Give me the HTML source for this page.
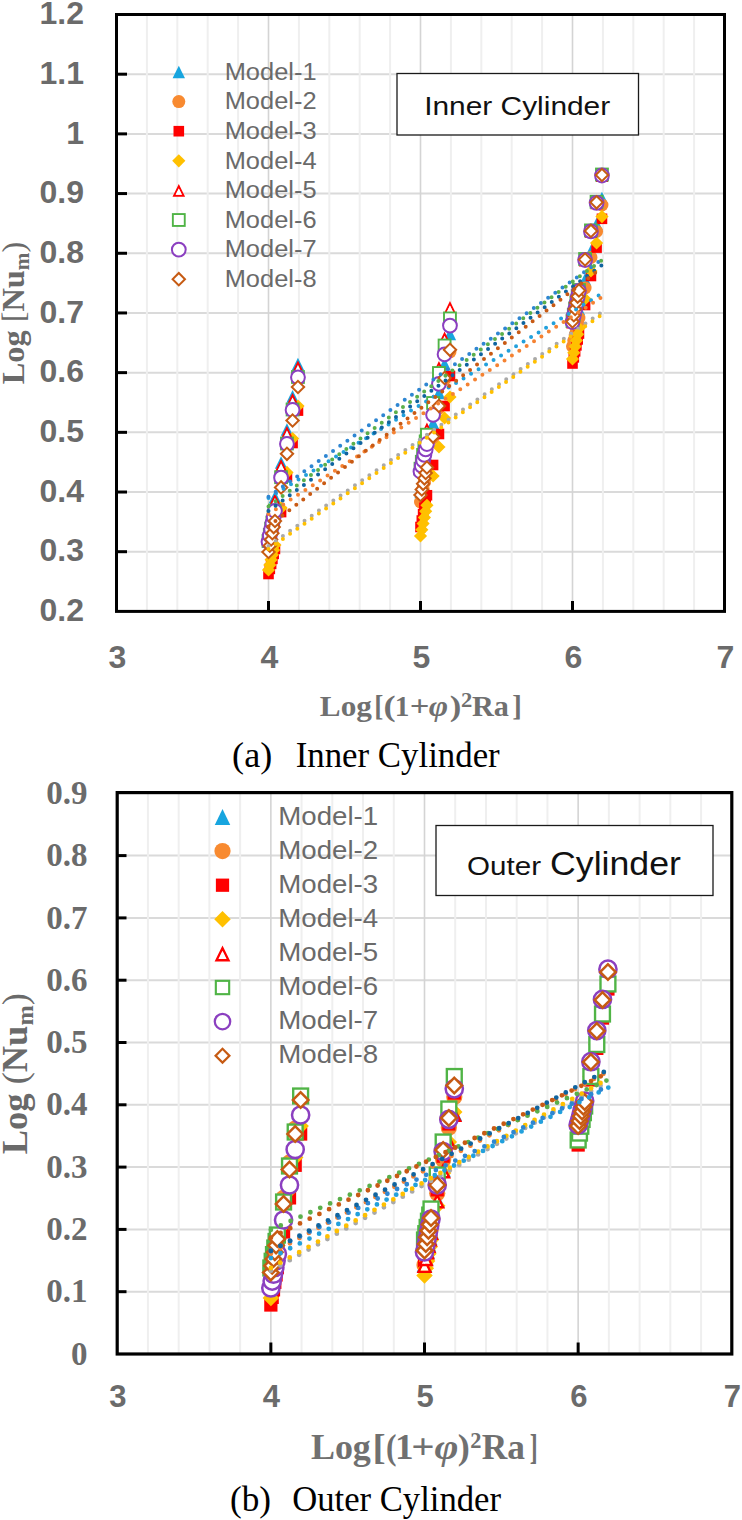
<!DOCTYPE html>
<html><head><meta charset="utf-8"><style>
html,body{margin:0;padding:0;background:#fff;}
svg{display:block;}
</style></head><body>
<svg width="742" height="1520" viewBox="0 0 742 1520">
<rect width="742" height="1520" fill="#fff"/>
<line x1="116.5" y1="551.71" x2="724.5" y2="551.71" stroke="#dadada" stroke-width="2"/>
<line x1="116.5" y1="492.02" x2="724.5" y2="492.02" stroke="#dadada" stroke-width="2"/>
<line x1="116.5" y1="432.33" x2="724.5" y2="432.33" stroke="#dadada" stroke-width="2"/>
<line x1="116.5" y1="372.64" x2="724.5" y2="372.64" stroke="#dadada" stroke-width="2"/>
<line x1="116.5" y1="312.95" x2="724.5" y2="312.95" stroke="#dadada" stroke-width="2"/>
<line x1="116.5" y1="253.26" x2="724.5" y2="253.26" stroke="#dadada" stroke-width="2"/>
<line x1="116.5" y1="193.57" x2="724.5" y2="193.57" stroke="#dadada" stroke-width="2"/>
<line x1="116.5" y1="133.88" x2="724.5" y2="133.88" stroke="#dadada" stroke-width="2"/>
<line x1="116.5" y1="74.19" x2="724.5" y2="74.19" stroke="#dadada" stroke-width="2"/>
<line x1="146.9" y1="14.5" x2="146.9" y2="611.4" stroke="#efefef" stroke-width="2"/>
<line x1="177.3" y1="14.5" x2="177.3" y2="611.4" stroke="#efefef" stroke-width="2"/>
<line x1="207.7" y1="14.5" x2="207.7" y2="611.4" stroke="#efefef" stroke-width="2"/>
<line x1="238.1" y1="14.5" x2="238.1" y2="611.4" stroke="#efefef" stroke-width="2"/>
<line x1="268.5" y1="14.5" x2="268.5" y2="611.4" stroke="#d4d4d4" stroke-width="1.6"/>
<line x1="298.9" y1="14.5" x2="298.9" y2="611.4" stroke="#efefef" stroke-width="2"/>
<line x1="329.3" y1="14.5" x2="329.3" y2="611.4" stroke="#efefef" stroke-width="2"/>
<line x1="359.7" y1="14.5" x2="359.7" y2="611.4" stroke="#efefef" stroke-width="2"/>
<line x1="390.1" y1="14.5" x2="390.1" y2="611.4" stroke="#efefef" stroke-width="2"/>
<line x1="420.5" y1="14.5" x2="420.5" y2="611.4" stroke="#d4d4d4" stroke-width="1.6"/>
<line x1="450.9" y1="14.5" x2="450.9" y2="611.4" stroke="#efefef" stroke-width="2"/>
<line x1="481.3" y1="14.5" x2="481.3" y2="611.4" stroke="#efefef" stroke-width="2"/>
<line x1="511.7" y1="14.5" x2="511.7" y2="611.4" stroke="#efefef" stroke-width="2"/>
<line x1="542.1" y1="14.5" x2="542.1" y2="611.4" stroke="#efefef" stroke-width="2"/>
<line x1="572.5" y1="14.5" x2="572.5" y2="611.4" stroke="#d4d4d4" stroke-width="1.6"/>
<line x1="602.9" y1="14.5" x2="602.9" y2="611.4" stroke="#efefef" stroke-width="2"/>
<line x1="633.3" y1="14.5" x2="633.3" y2="611.4" stroke="#efefef" stroke-width="2"/>
<line x1="663.7" y1="14.5" x2="663.7" y2="611.4" stroke="#efefef" stroke-width="2"/>
<line x1="694.1" y1="14.5" x2="694.1" y2="611.4" stroke="#efefef" stroke-width="2"/>
<path d="M178.8 65.7L185 78.3L172.6 78.3Z" fill="#17a5df"/>
<text x="224.7" y="79.7" font-family="Liberation Sans" font-size="23.5" fill="#6a6a6a" textLength="91.9" lengthAdjust="spacingAndGlyphs">Model-1</text>
<circle cx="178.8" cy="101.6" r="6.5" fill="#f88a30"/>
<text x="224.7" y="109.3" font-family="Liberation Sans" font-size="23.5" fill="#6a6a6a" textLength="91.9" lengthAdjust="spacingAndGlyphs">Model-2</text>
<rect x="173.5" y="125.9" width="10.6" height="10.6" fill="#ff0000"/>
<text x="224.7" y="138.9" font-family="Liberation Sans" font-size="23.5" fill="#6a6a6a" textLength="91.9" lengthAdjust="spacingAndGlyphs">Model-3</text>
<path d="M178.8 154.2L185.4 160.8L178.8 167.4L172.2 160.8Z" fill="#ffc000"/>
<text x="224.7" y="168.5" font-family="Liberation Sans" font-size="23.5" fill="#6a6a6a" textLength="91.9" lengthAdjust="spacingAndGlyphs">Model-4</text>
<path d="M178.8 184L185.1 196.8L172.5 196.8ZM178.8 188.44L181.95 194.84L175.65 194.84Z" fill="#ff0000" fill-rule="evenodd"/><path d="M178.8 188.44L181.95 194.84L175.65 194.84Z" fill="#fff"/>
<text x="224.7" y="198.1" font-family="Liberation Sans" font-size="23.5" fill="#6a6a6a" textLength="91.9" lengthAdjust="spacingAndGlyphs">Model-5</text>
<rect x="171.9" y="213.1" width="13.8" height="13.8" fill="#50b446"/><rect x="173.8" y="215" width="10" height="10" fill="#fff"/>
<text x="224.7" y="227.7" font-family="Liberation Sans" font-size="23.5" fill="#6a6a6a" textLength="91.9" lengthAdjust="spacingAndGlyphs">Model-6</text>
<circle cx="178.8" cy="249.6" r="6.9" fill="#fff" stroke="#8b3fc0" stroke-width="2"/>
<text x="224.7" y="257.3" font-family="Liberation Sans" font-size="23.5" fill="#6a6a6a" textLength="91.9" lengthAdjust="spacingAndGlyphs">Model-7</text>
<path d="M178.8 271.6L186.4 279.2L178.8 286.8L171.2 279.2Z" fill="#c65a12"/><path d="M178.8 274.43L183.57 279.2L178.8 283.97L174.03 279.2Z" fill="#fff"/>
<text x="224.7" y="286.9" font-family="Liberation Sans" font-size="23.5" fill="#6a6a6a" textLength="91.9" lengthAdjust="spacingAndGlyphs">Model-8</text>
<rect x="397" y="73.5" width="241.5" height="61.5" fill="#fff" stroke="#1a1a1a" stroke-width="1.3"/>
<text x="424.2" y="114.8" font-family="Liberation Sans" font-size="26.5" fill="#111" textLength="186" lengthAdjust="spacingAndGlyphs">Inner Cylinder</text>
<path d="M268.5 530.7L274.7 543.3L262.3 543.3Z" fill="#17a5df"/>
<path d="M269.81 522.54L276.01 535.14L263.61 535.14Z" fill="#17a5df"/>
<path d="M271.11 514.47L277.31 527.07L264.91 527.07Z" fill="#17a5df"/>
<path d="M272.4 506.47L278.6 519.07L266.2 519.07Z" fill="#17a5df"/>
<path d="M273.68 498.55L279.88 511.15L267.48 511.15Z" fill="#17a5df"/>
<path d="M274.94 490.7L281.14 503.3L268.74 503.3Z" fill="#17a5df"/>
<path d="M281.08 456.18L287.28 468.78L274.88 468.78Z" fill="#17a5df"/>
<path d="M286.95 423.2L293.15 435.8L280.75 435.8Z" fill="#17a5df"/>
<path d="M292.57 390.1L298.77 402.7L286.37 402.7Z" fill="#17a5df"/>
<path d="M297.96 357.7L304.16 370.3L291.76 370.3Z" fill="#17a5df"/>
<path d="M420.5 485.7L426.7 498.3L414.3 498.3Z" fill="#17a5df"/>
<path d="M421.81 478.5L428.01 491.1L415.61 491.1Z" fill="#17a5df"/>
<path d="M423.11 471.36L429.31 483.96L416.91 483.96Z" fill="#17a5df"/>
<path d="M424.4 464.3L430.6 476.9L418.2 476.9Z" fill="#17a5df"/>
<path d="M425.68 457.31L431.88 469.91L419.48 469.91Z" fill="#17a5df"/>
<path d="M426.94 450.38L433.14 462.98L420.74 462.98Z" fill="#17a5df"/>
<path d="M433.08 416.7L439.28 429.3L426.88 429.3Z" fill="#17a5df"/>
<path d="M438.95 386.56L445.15 399.16L432.75 399.16Z" fill="#17a5df"/>
<path d="M444.57 357.7L450.77 370.3L438.37 370.3Z" fill="#17a5df"/>
<path d="M449.96 327.7L456.16 340.3L443.76 340.3Z" fill="#17a5df"/>
<path d="M572.5 333.7L578.7 346.3L566.3 346.3Z" fill="#17a5df"/>
<path d="M573.81 327.37L580.01 339.97L567.61 339.97Z" fill="#17a5df"/>
<path d="M575.11 321.1L581.31 333.7L568.91 333.7Z" fill="#17a5df"/>
<path d="M576.4 314.89L582.6 327.49L570.2 327.49Z" fill="#17a5df"/>
<path d="M577.68 308.74L583.88 321.34L571.48 321.34Z" fill="#17a5df"/>
<path d="M578.94 302.65L585.14 315.25L572.74 315.25Z" fill="#17a5df"/>
<path d="M585.08 273.05L591.28 285.65L578.88 285.65Z" fill="#17a5df"/>
<path d="M590.95 244.76L597.15 257.36L584.75 257.36Z" fill="#17a5df"/>
<path d="M596.57 217.68L602.77 230.28L590.37 230.28Z" fill="#17a5df"/>
<path d="M601.96 191.7L608.16 204.3L595.76 204.3Z" fill="#17a5df"/>
<circle cx="268.5" cy="541.8" r="6.5" fill="#f88a30"/>
<circle cx="269.81" cy="535.52" r="6.5" fill="#f88a30"/>
<circle cx="271.11" cy="529.3" r="6.5" fill="#f88a30"/>
<circle cx="272.4" cy="523.14" r="6.5" fill="#f88a30"/>
<circle cx="273.68" cy="517.04" r="6.5" fill="#f88a30"/>
<circle cx="274.94" cy="511" r="6.5" fill="#f88a30"/>
<circle cx="281.08" cy="477.7" r="6.5" fill="#f88a30"/>
<circle cx="286.95" cy="444" r="6.5" fill="#f88a30"/>
<circle cx="292.57" cy="410" r="6.5" fill="#f88a30"/>
<circle cx="297.96" cy="377.3" r="6.5" fill="#f88a30"/>
<circle cx="420.5" cy="502" r="6.5" fill="#f88a30"/>
<circle cx="421.81" cy="495.31" r="6.5" fill="#f88a30"/>
<circle cx="423.11" cy="488.69" r="6.5" fill="#f88a30"/>
<circle cx="424.4" cy="482.13" r="6.5" fill="#f88a30"/>
<circle cx="425.68" cy="475.64" r="6.5" fill="#f88a30"/>
<circle cx="426.94" cy="469.2" r="6.5" fill="#f88a30"/>
<circle cx="433.08" cy="437.93" r="6.5" fill="#f88a30"/>
<circle cx="438.95" cy="408.05" r="6.5" fill="#f88a30"/>
<circle cx="444.57" cy="379.44" r="6.5" fill="#f88a30"/>
<circle cx="449.96" cy="352" r="6.5" fill="#f88a30"/>
<circle cx="572.5" cy="346.5" r="6.5" fill="#f88a30"/>
<circle cx="573.81" cy="340.69" r="6.5" fill="#f88a30"/>
<circle cx="575.11" cy="334.93" r="6.5" fill="#f88a30"/>
<circle cx="576.4" cy="329.23" r="6.5" fill="#f88a30"/>
<circle cx="577.68" cy="323.59" r="6.5" fill="#f88a30"/>
<circle cx="578.94" cy="318" r="6.5" fill="#f88a30"/>
<circle cx="585.08" cy="288" r="6.5" fill="#f88a30"/>
<circle cx="590.95" cy="257.4" r="6.5" fill="#f88a30"/>
<circle cx="596.57" cy="231.4" r="6.5" fill="#f88a30"/>
<circle cx="601.96" cy="205" r="6.5" fill="#f88a30"/>
<rect x="263.2" y="568.7" width="10.6" height="10.6" fill="#ff0000"/>
<rect x="264.51" y="563.6" width="10.6" height="10.6" fill="#ff0000"/>
<rect x="265.81" y="558.55" width="10.6" height="10.6" fill="#ff0000"/>
<rect x="267.1" y="553.55" width="10.6" height="10.6" fill="#ff0000"/>
<rect x="268.38" y="548.6" width="10.6" height="10.6" fill="#ff0000"/>
<rect x="269.64" y="543.7" width="10.6" height="10.6" fill="#ff0000"/>
<rect x="275.78" y="506.77" width="10.6" height="10.6" fill="#ff0000"/>
<rect x="281.65" y="471.49" width="10.6" height="10.6" fill="#ff0000"/>
<rect x="287.27" y="437.7" width="10.6" height="10.6" fill="#ff0000"/>
<rect x="292.66" y="405.3" width="10.6" height="10.6" fill="#ff0000"/>
<rect x="415.2" y="521.7" width="10.6" height="10.6" fill="#ff0000"/>
<rect x="416.51" y="515.23" width="10.6" height="10.6" fill="#ff0000"/>
<rect x="417.81" y="508.82" width="10.6" height="10.6" fill="#ff0000"/>
<rect x="419.1" y="502.47" width="10.6" height="10.6" fill="#ff0000"/>
<rect x="420.38" y="496.19" width="10.6" height="10.6" fill="#ff0000"/>
<rect x="421.64" y="489.96" width="10.6" height="10.6" fill="#ff0000"/>
<rect x="427.78" y="459.7" width="10.6" height="10.6" fill="#ff0000"/>
<rect x="433.65" y="428.7" width="10.6" height="10.6" fill="#ff0000"/>
<rect x="439.27" y="400.7" width="10.6" height="10.6" fill="#ff0000"/>
<rect x="444.66" y="370.7" width="10.6" height="10.6" fill="#ff0000"/>
<rect x="567.2" y="358.2" width="10.6" height="10.6" fill="#ff0000"/>
<rect x="568.51" y="352.09" width="10.6" height="10.6" fill="#ff0000"/>
<rect x="569.81" y="346.05" width="10.6" height="10.6" fill="#ff0000"/>
<rect x="571.1" y="340.06" width="10.6" height="10.6" fill="#ff0000"/>
<rect x="572.38" y="334.13" width="10.6" height="10.6" fill="#ff0000"/>
<rect x="573.64" y="328.25" width="10.6" height="10.6" fill="#ff0000"/>
<rect x="579.78" y="299.7" width="10.6" height="10.6" fill="#ff0000"/>
<rect x="585.65" y="270.7" width="10.6" height="10.6" fill="#ff0000"/>
<rect x="591.27" y="242.3" width="10.6" height="10.6" fill="#ff0000"/>
<rect x="596.66" y="213.5" width="10.6" height="10.6" fill="#ff0000"/>
<path d="M268.5 563.4L275.1 570L268.5 576.6L261.9 570Z" fill="#ffc000"/>
<path d="M269.81 558.3L276.41 564.9L269.81 571.5L263.21 564.9Z" fill="#ffc000"/>
<path d="M271.11 553.25L277.71 559.85L271.11 566.45L264.51 559.85Z" fill="#ffc000"/>
<path d="M272.4 548.25L279 554.85L272.4 561.45L265.8 554.85Z" fill="#ffc000"/>
<path d="M273.68 543.3L280.28 549.9L273.68 556.5L267.08 549.9Z" fill="#ffc000"/>
<path d="M274.94 538.4L281.54 545L274.94 551.6L268.34 545Z" fill="#ffc000"/>
<path d="M281.08 501.31L287.68 507.91L281.08 514.51L274.48 507.91Z" fill="#ffc000"/>
<path d="M286.95 465.87L293.55 472.47L286.95 479.07L280.35 472.47Z" fill="#ffc000"/>
<path d="M292.57 431.94L299.17 438.54L292.57 445.14L285.97 438.54Z" fill="#ffc000"/>
<path d="M297.96 399.4L304.56 406L297.96 412.6L291.36 406Z" fill="#ffc000"/>
<path d="M420.5 529.4L427.1 536L420.5 542.6L413.9 536Z" fill="#ffc000"/>
<path d="M421.81 523.14L428.41 529.74L421.81 536.34L415.21 529.74Z" fill="#ffc000"/>
<path d="M423.11 516.93L429.71 523.53L423.11 530.13L416.51 523.53Z" fill="#ffc000"/>
<path d="M424.4 510.79L431 517.39L424.4 523.99L417.8 517.39Z" fill="#ffc000"/>
<path d="M425.68 504.71L432.28 511.31L425.68 517.91L419.08 511.31Z" fill="#ffc000"/>
<path d="M426.94 498.69L433.54 505.29L426.94 511.89L420.34 505.29Z" fill="#ffc000"/>
<path d="M433.08 469.4L439.68 476L433.08 482.6L426.48 476Z" fill="#ffc000"/>
<path d="M438.95 440.4L445.55 447L438.95 453.6L432.35 447Z" fill="#ffc000"/>
<path d="M444.57 411.4L451.17 418L444.57 424.6L437.97 418Z" fill="#ffc000"/>
<path d="M449.96 390.4L456.56 397L449.96 403.6L443.36 397Z" fill="#ffc000"/>
<path d="M572.5 352.4L579.1 359L572.5 365.6L565.9 359Z" fill="#ffc000"/>
<path d="M573.81 346.13L580.41 352.73L573.81 359.33L567.21 352.73Z" fill="#ffc000"/>
<path d="M575.11 339.93L581.71 346.53L575.11 353.13L568.51 346.53Z" fill="#ffc000"/>
<path d="M576.4 333.79L583 340.39L576.4 346.99L569.8 340.39Z" fill="#ffc000"/>
<path d="M577.68 327.7L584.28 334.3L577.68 340.9L571.08 334.3Z" fill="#ffc000"/>
<path d="M578.94 321.68L585.54 328.28L578.94 334.88L572.34 328.28Z" fill="#ffc000"/>
<path d="M585.08 292.39L591.68 298.99L585.08 305.59L578.48 298.99Z" fill="#ffc000"/>
<path d="M590.95 264.4L597.55 271L590.95 277.6L584.35 271Z" fill="#ffc000"/>
<path d="M596.57 236.4L603.17 243L596.57 249.6L589.97 243Z" fill="#ffc000"/>
<path d="M601.96 210L608.56 216.6L601.96 223.2L595.36 216.6Z" fill="#ffc000"/>
<path d="M268.5 533.6L274.8 546.4L262.2 546.4ZM268.5 538.04L271.65 544.44L265.35 544.44Z" fill="#ff0000" fill-rule="evenodd"/><path d="M268.5 538.04L271.65 544.44L265.35 544.44Z" fill="#fff"/>
<path d="M269.81 525.44L276.11 538.24L263.51 538.24ZM269.81 529.88L272.96 536.28L266.66 536.28Z" fill="#ff0000" fill-rule="evenodd"/><path d="M269.81 529.88L272.96 536.28L266.66 536.28Z" fill="#fff"/>
<path d="M271.11 517.37L277.41 530.17L264.81 530.17ZM271.11 521.8L274.26 528.2L267.96 528.2Z" fill="#ff0000" fill-rule="evenodd"/><path d="M271.11 521.8L274.26 528.2L267.96 528.2Z" fill="#fff"/>
<path d="M272.4 509.37L278.7 522.17L266.1 522.17ZM272.4 513.81L275.55 520.21L269.25 520.21Z" fill="#ff0000" fill-rule="evenodd"/><path d="M272.4 513.81L275.55 520.21L269.25 520.21Z" fill="#fff"/>
<path d="M273.68 501.45L279.98 514.25L267.38 514.25ZM273.68 505.88L276.83 512.28L270.53 512.28Z" fill="#ff0000" fill-rule="evenodd"/><path d="M273.68 505.88L276.83 512.28L270.53 512.28Z" fill="#fff"/>
<path d="M274.94 493.6L281.24 506.4L268.64 506.4ZM274.94 498.04L278.09 504.44L271.79 504.44Z" fill="#ff0000" fill-rule="evenodd"/><path d="M274.94 498.04L278.09 504.44L271.79 504.44Z" fill="#fff"/>
<path d="M281.08 459.08L287.38 471.88L274.78 471.88ZM281.08 463.52L284.23 469.92L277.93 469.92Z" fill="#ff0000" fill-rule="evenodd"/><path d="M281.08 463.52L284.23 469.92L277.93 469.92Z" fill="#fff"/>
<path d="M286.95 426.1L293.25 438.9L280.65 438.9ZM286.95 430.54L290.1 436.94L283.8 436.94Z" fill="#ff0000" fill-rule="evenodd"/><path d="M286.95 430.54L290.1 436.94L283.8 436.94Z" fill="#fff"/>
<path d="M292.57 393L298.87 405.8L286.27 405.8ZM292.57 397.44L295.72 403.84L289.42 403.84Z" fill="#ff0000" fill-rule="evenodd"/><path d="M292.57 397.44L295.72 403.84L289.42 403.84Z" fill="#fff"/>
<path d="M297.96 360.6L304.26 373.4L291.66 373.4ZM297.96 365.04L301.11 371.44L294.81 371.44Z" fill="#ff0000" fill-rule="evenodd"/><path d="M297.96 365.04L301.11 371.44L294.81 371.44Z" fill="#fff"/>
<path d="M420.5 456.6L426.8 469.4L414.2 469.4ZM420.5 461.04L423.65 467.44L417.35 467.44Z" fill="#ff0000" fill-rule="evenodd"/><path d="M420.5 461.04L423.65 467.44L417.35 467.44Z" fill="#fff"/>
<path d="M421.81 449.67L428.11 462.47L415.51 462.47ZM421.81 454.11L424.96 460.51L418.66 460.51Z" fill="#ff0000" fill-rule="evenodd"/><path d="M421.81 454.11L424.96 460.51L418.66 460.51Z" fill="#fff"/>
<path d="M423.11 442.8L429.41 455.6L416.81 455.6ZM423.11 447.24L426.26 453.64L419.96 453.64Z" fill="#ff0000" fill-rule="evenodd"/><path d="M423.11 447.24L426.26 453.64L419.96 453.64Z" fill="#fff"/>
<path d="M424.4 436L430.7 448.8L418.1 448.8ZM424.4 440.44L427.55 446.84L421.25 446.84Z" fill="#ff0000" fill-rule="evenodd"/><path d="M424.4 440.44L427.55 446.84L421.25 446.84Z" fill="#fff"/>
<path d="M425.68 429.27L431.98 442.07L419.38 442.07ZM425.68 433.71L428.83 440.11L422.53 440.11Z" fill="#ff0000" fill-rule="evenodd"/><path d="M425.68 433.71L428.83 440.11L422.53 440.11Z" fill="#fff"/>
<path d="M426.94 422.6L433.24 435.4L420.64 435.4ZM426.94 427.04L430.09 433.44L423.79 433.44Z" fill="#ff0000" fill-rule="evenodd"/><path d="M426.94 427.04L430.09 433.44L423.79 433.44Z" fill="#fff"/>
<path d="M433.08 394.6L439.38 407.4L426.78 407.4ZM433.08 399.04L436.23 405.44L429.93 405.44Z" fill="#ff0000" fill-rule="evenodd"/><path d="M433.08 399.04L436.23 405.44L429.93 405.44Z" fill="#fff"/>
<path d="M438.95 361.1L445.25 373.9L432.65 373.9ZM438.95 365.54L442.1 371.94L435.8 371.94Z" fill="#ff0000" fill-rule="evenodd"/><path d="M438.95 365.54L442.1 371.94L435.8 371.94Z" fill="#fff"/>
<path d="M444.57 331.6L450.87 344.4L438.27 344.4ZM444.57 336.04L447.72 342.44L441.42 342.44Z" fill="#ff0000" fill-rule="evenodd"/><path d="M444.57 336.04L447.72 342.44L441.42 342.44Z" fill="#fff"/>
<path d="M449.96 301.1L456.26 313.9L443.66 313.9ZM449.96 305.54L453.11 311.94L446.81 311.94Z" fill="#ff0000" fill-rule="evenodd"/><path d="M449.96 305.54L453.11 311.94L446.81 311.94Z" fill="#fff"/>
<path d="M572.5 315.6L578.8 328.4L566.2 328.4ZM572.5 320.04L575.65 326.44L569.35 326.44Z" fill="#ff0000" fill-rule="evenodd"/><path d="M572.5 320.04L575.65 326.44L569.35 326.44Z" fill="#fff"/>
<path d="M573.81 309.28L580.11 322.08L567.51 322.08ZM573.81 313.72L576.96 320.12L570.66 320.12Z" fill="#ff0000" fill-rule="evenodd"/><path d="M573.81 313.72L576.96 320.12L570.66 320.12Z" fill="#fff"/>
<path d="M575.11 303.02L581.41 315.82L568.81 315.82ZM575.11 307.46L578.26 313.86L571.96 313.86Z" fill="#ff0000" fill-rule="evenodd"/><path d="M575.11 307.46L578.26 313.86L571.96 313.86Z" fill="#fff"/>
<path d="M576.4 296.82L582.7 309.62L570.1 309.62ZM576.4 301.26L579.55 307.66L573.25 307.66Z" fill="#ff0000" fill-rule="evenodd"/><path d="M576.4 301.26L579.55 307.66L573.25 307.66Z" fill="#fff"/>
<path d="M577.68 290.68L583.98 303.48L571.38 303.48ZM577.68 295.12L580.83 301.52L574.53 301.52Z" fill="#ff0000" fill-rule="evenodd"/><path d="M577.68 295.12L580.83 301.52L574.53 301.52Z" fill="#fff"/>
<path d="M578.94 284.6L585.24 297.4L572.64 297.4ZM578.94 289.04L582.09 295.44L575.79 295.44Z" fill="#ff0000" fill-rule="evenodd"/><path d="M578.94 289.04L582.09 295.44L575.79 295.44Z" fill="#fff"/>
<path d="M585.08 253.6L591.38 266.4L578.78 266.4ZM585.08 258.04L588.23 264.44L581.93 264.44Z" fill="#ff0000" fill-rule="evenodd"/><path d="M585.08 258.04L588.23 264.44L581.93 264.44Z" fill="#fff"/>
<path d="M590.95 225L597.25 237.8L584.65 237.8ZM590.95 229.44L594.1 235.84L587.8 235.84Z" fill="#ff0000" fill-rule="evenodd"/><path d="M590.95 229.44L594.1 235.84L587.8 235.84Z" fill="#fff"/>
<path d="M596.57 196.4L602.87 209.2L590.27 209.2ZM596.57 200.84L599.72 207.24L593.42 207.24Z" fill="#ff0000" fill-rule="evenodd"/><path d="M596.57 200.84L599.72 207.24L593.42 207.24Z" fill="#fff"/>
<path d="M601.96 169.1L608.26 181.9L595.66 181.9ZM601.96 173.54L605.11 179.94L598.81 179.94Z" fill="#ff0000" fill-rule="evenodd"/><path d="M601.96 173.54L605.11 179.94L598.81 179.94Z" fill="#fff"/>
<rect x="261.6" y="534.1" width="13.8" height="13.8" fill="#50b446"/><rect x="263.5" y="536" width="10" height="10" fill="#fff"/>
<rect x="262.91" y="527.88" width="13.8" height="13.8" fill="#50b446"/><rect x="264.81" y="529.78" width="10" height="10" fill="#fff"/>
<rect x="264.21" y="521.72" width="13.8" height="13.8" fill="#50b446"/><rect x="266.11" y="523.62" width="10" height="10" fill="#fff"/>
<rect x="265.5" y="515.62" width="13.8" height="13.8" fill="#50b446"/><rect x="267.4" y="517.52" width="10" height="10" fill="#fff"/>
<rect x="266.78" y="509.58" width="13.8" height="13.8" fill="#50b446"/><rect x="268.68" y="511.48" width="10" height="10" fill="#fff"/>
<rect x="268.04" y="503.6" width="13.8" height="13.8" fill="#50b446"/><rect x="269.94" y="505.5" width="10" height="10" fill="#fff"/>
<rect x="274.18" y="470.3" width="13.8" height="13.8" fill="#50b446"/><rect x="276.08" y="472.2" width="10" height="10" fill="#fff"/>
<rect x="280.05" y="436.6" width="13.8" height="13.8" fill="#50b446"/><rect x="281.95" y="438.5" width="10" height="10" fill="#fff"/>
<rect x="285.67" y="402.6" width="13.8" height="13.8" fill="#50b446"/><rect x="287.57" y="404.5" width="10" height="10" fill="#fff"/>
<rect x="291.06" y="370.1" width="13.8" height="13.8" fill="#50b446"/><rect x="292.96" y="372" width="10" height="10" fill="#fff"/>
<rect x="413.6" y="461.8" width="13.8" height="13.8" fill="#50b446"/><rect x="415.5" y="463.7" width="10" height="10" fill="#fff"/>
<rect x="414.91" y="454.87" width="13.8" height="13.8" fill="#50b446"/><rect x="416.81" y="456.77" width="10" height="10" fill="#fff"/>
<rect x="416.21" y="448" width="13.8" height="13.8" fill="#50b446"/><rect x="418.11" y="449.9" width="10" height="10" fill="#fff"/>
<rect x="417.5" y="441.2" width="13.8" height="13.8" fill="#50b446"/><rect x="419.4" y="443.1" width="10" height="10" fill="#fff"/>
<rect x="418.78" y="434.47" width="13.8" height="13.8" fill="#50b446"/><rect x="420.68" y="436.37" width="10" height="10" fill="#fff"/>
<rect x="420.04" y="427.8" width="13.8" height="13.8" fill="#50b446"/><rect x="421.94" y="429.7" width="10" height="10" fill="#fff"/>
<rect x="426.18" y="396.1" width="13.8" height="13.8" fill="#50b446"/><rect x="428.08" y="398" width="10" height="10" fill="#fff"/>
<rect x="432.05" y="366.1" width="13.8" height="13.8" fill="#50b446"/><rect x="433.95" y="368" width="10" height="10" fill="#fff"/>
<rect x="437.67" y="338.6" width="13.8" height="13.8" fill="#50b446"/><rect x="439.57" y="340.5" width="10" height="10" fill="#fff"/>
<rect x="443.06" y="311.5" width="13.8" height="13.8" fill="#50b446"/><rect x="444.96" y="313.4" width="10" height="10" fill="#fff"/>
<rect x="565.6" y="314.1" width="13.8" height="13.8" fill="#50b446"/><rect x="567.5" y="316" width="10" height="10" fill="#fff"/>
<rect x="566.91" y="307.78" width="13.8" height="13.8" fill="#50b446"/><rect x="568.81" y="309.68" width="10" height="10" fill="#fff"/>
<rect x="568.21" y="301.52" width="13.8" height="13.8" fill="#50b446"/><rect x="570.11" y="303.42" width="10" height="10" fill="#fff"/>
<rect x="569.5" y="295.32" width="13.8" height="13.8" fill="#50b446"/><rect x="571.4" y="297.22" width="10" height="10" fill="#fff"/>
<rect x="570.78" y="289.18" width="13.8" height="13.8" fill="#50b446"/><rect x="572.68" y="291.08" width="10" height="10" fill="#fff"/>
<rect x="572.04" y="283.1" width="13.8" height="13.8" fill="#50b446"/><rect x="573.94" y="285" width="10" height="10" fill="#fff"/>
<rect x="578.18" y="252.1" width="13.8" height="13.8" fill="#50b446"/><rect x="580.08" y="254" width="10" height="10" fill="#fff"/>
<rect x="584.05" y="223.5" width="13.8" height="13.8" fill="#50b446"/><rect x="585.95" y="225.4" width="10" height="10" fill="#fff"/>
<rect x="589.67" y="194.9" width="13.8" height="13.8" fill="#50b446"/><rect x="591.57" y="196.8" width="10" height="10" fill="#fff"/>
<rect x="595.06" y="167.6" width="13.8" height="13.8" fill="#50b446"/><rect x="596.96" y="169.5" width="10" height="10" fill="#fff"/>
<circle cx="268.5" cy="541.8" r="6.9" fill="#fff" stroke="#8b3fc0" stroke-width="2"/>
<circle cx="269.81" cy="535.52" r="6.9" fill="#fff" stroke="#8b3fc0" stroke-width="2"/>
<circle cx="271.11" cy="529.3" r="6.9" fill="#fff" stroke="#8b3fc0" stroke-width="2"/>
<circle cx="272.4" cy="523.14" r="6.9" fill="#fff" stroke="#8b3fc0" stroke-width="2"/>
<circle cx="273.68" cy="517.04" r="6.9" fill="#fff" stroke="#8b3fc0" stroke-width="2"/>
<circle cx="274.94" cy="511" r="6.9" fill="#fff" stroke="#8b3fc0" stroke-width="2"/>
<circle cx="281.08" cy="477.7" r="6.9" fill="#fff" stroke="#8b3fc0" stroke-width="2"/>
<circle cx="286.95" cy="444" r="6.9" fill="#fff" stroke="#8b3fc0" stroke-width="2"/>
<circle cx="292.57" cy="410" r="6.9" fill="#fff" stroke="#8b3fc0" stroke-width="2"/>
<circle cx="297.96" cy="377.3" r="6.9" fill="#fff" stroke="#8b3fc0" stroke-width="2"/>
<circle cx="420.5" cy="471.5" r="6.9" fill="#fff" stroke="#8b3fc0" stroke-width="2"/>
<circle cx="421.81" cy="465.89" r="6.9" fill="#fff" stroke="#8b3fc0" stroke-width="2"/>
<circle cx="423.11" cy="460.34" r="6.9" fill="#fff" stroke="#8b3fc0" stroke-width="2"/>
<circle cx="424.4" cy="454.84" r="6.9" fill="#fff" stroke="#8b3fc0" stroke-width="2"/>
<circle cx="425.68" cy="449.39" r="6.9" fill="#fff" stroke="#8b3fc0" stroke-width="2"/>
<circle cx="426.94" cy="444" r="6.9" fill="#fff" stroke="#8b3fc0" stroke-width="2"/>
<circle cx="433.08" cy="414.8" r="6.9" fill="#fff" stroke="#8b3fc0" stroke-width="2"/>
<circle cx="438.95" cy="383.8" r="6.9" fill="#fff" stroke="#8b3fc0" stroke-width="2"/>
<circle cx="444.57" cy="354.3" r="6.9" fill="#fff" stroke="#8b3fc0" stroke-width="2"/>
<circle cx="449.96" cy="325.6" r="6.9" fill="#fff" stroke="#8b3fc0" stroke-width="2"/>
<circle cx="572.5" cy="322" r="6.9" fill="#fff" stroke="#8b3fc0" stroke-width="2"/>
<circle cx="573.81" cy="315.68" r="6.9" fill="#fff" stroke="#8b3fc0" stroke-width="2"/>
<circle cx="575.11" cy="309.42" r="6.9" fill="#fff" stroke="#8b3fc0" stroke-width="2"/>
<circle cx="576.4" cy="303.22" r="6.9" fill="#fff" stroke="#8b3fc0" stroke-width="2"/>
<circle cx="577.68" cy="297.08" r="6.9" fill="#fff" stroke="#8b3fc0" stroke-width="2"/>
<circle cx="578.94" cy="291" r="6.9" fill="#fff" stroke="#8b3fc0" stroke-width="2"/>
<circle cx="585.08" cy="260" r="6.9" fill="#fff" stroke="#8b3fc0" stroke-width="2"/>
<circle cx="590.95" cy="231.4" r="6.9" fill="#fff" stroke="#8b3fc0" stroke-width="2"/>
<circle cx="596.57" cy="202.8" r="6.9" fill="#fff" stroke="#8b3fc0" stroke-width="2"/>
<circle cx="601.96" cy="175.5" r="6.9" fill="#fff" stroke="#8b3fc0" stroke-width="2"/>
<path d="M268.5 544.4L276.1 552L268.5 559.6L260.9 552Z" fill="#c65a12"/><path d="M268.5 547.23L273.27 552L268.5 556.77L263.73 552Z" fill="#fff"/>
<path d="M269.81 538.08L277.41 545.68L269.81 553.28L262.21 545.68Z" fill="#c65a12"/><path d="M269.81 540.91L274.59 545.68L269.81 550.45L265.04 545.68Z" fill="#fff"/>
<path d="M271.11 531.82L278.71 539.42L271.11 547.02L263.51 539.42Z" fill="#c65a12"/><path d="M271.11 534.65L275.89 539.42L271.11 544.19L266.34 539.42Z" fill="#fff"/>
<path d="M272.4 525.62L280 533.22L272.4 540.82L264.8 533.22Z" fill="#c65a12"/><path d="M272.4 528.45L277.17 533.22L272.4 537.99L267.63 533.22Z" fill="#fff"/>
<path d="M273.68 519.48L281.28 527.08L273.68 534.68L266.08 527.08Z" fill="#c65a12"/><path d="M273.68 522.31L278.45 527.08L273.68 531.85L268.91 527.08Z" fill="#fff"/>
<path d="M274.94 513.4L282.54 521L274.94 528.6L267.34 521Z" fill="#c65a12"/><path d="M274.94 516.23L279.71 521L274.94 525.77L270.17 521Z" fill="#fff"/>
<path d="M281.08 479.8L288.68 487.4L281.08 495L273.48 487.4Z" fill="#c65a12"/><path d="M281.08 482.63L285.85 487.4L281.08 492.17L276.31 487.4Z" fill="#fff"/>
<path d="M286.95 446.2L294.55 453.8L286.95 461.4L279.35 453.8Z" fill="#c65a12"/><path d="M286.95 449.03L291.72 453.8L286.95 458.57L282.18 453.8Z" fill="#fff"/>
<path d="M292.57 412.9L300.17 420.5L292.57 428.1L284.97 420.5Z" fill="#c65a12"/><path d="M292.57 415.73L297.34 420.5L292.57 425.27L287.8 420.5Z" fill="#fff"/>
<path d="M297.96 379.4L305.56 387L297.96 394.6L290.36 387Z" fill="#c65a12"/><path d="M297.96 382.23L302.73 387L297.96 391.77L293.19 387Z" fill="#fff"/>
<path d="M420.5 487.4L428.1 495L420.5 502.6L412.9 495Z" fill="#c65a12"/><path d="M420.5 490.23L425.27 495L420.5 499.77L415.73 495Z" fill="#fff"/>
<path d="M421.81 481.79L429.41 489.39L421.81 496.99L414.21 489.39Z" fill="#c65a12"/><path d="M421.81 484.62L426.59 489.39L421.81 494.16L417.04 489.39Z" fill="#fff"/>
<path d="M423.11 476.24L430.71 483.84L423.11 491.44L415.51 483.84Z" fill="#c65a12"/><path d="M423.11 479.07L427.89 483.84L423.11 488.61L418.34 483.84Z" fill="#fff"/>
<path d="M424.4 470.74L432 478.34L424.4 485.94L416.8 478.34Z" fill="#c65a12"/><path d="M424.4 473.57L429.17 478.34L424.4 483.11L419.63 478.34Z" fill="#fff"/>
<path d="M425.68 465.29L433.28 472.89L425.68 480.49L418.08 472.89Z" fill="#c65a12"/><path d="M425.68 468.12L430.45 472.89L425.68 477.67L420.91 472.89Z" fill="#fff"/>
<path d="M426.94 459.9L434.54 467.5L426.94 475.1L419.34 467.5Z" fill="#c65a12"/><path d="M426.94 462.73L431.71 467.5L426.94 472.27L422.17 467.5Z" fill="#fff"/>
<path d="M433.08 429L440.68 436.6L433.08 444.2L425.48 436.6Z" fill="#c65a12"/><path d="M433.08 431.83L437.85 436.6L433.08 441.37L428.31 436.6Z" fill="#fff"/>
<path d="M438.95 398.3L446.55 405.9L438.95 413.5L431.35 405.9Z" fill="#c65a12"/><path d="M438.95 401.13L443.72 405.9L438.95 410.67L434.18 405.9Z" fill="#fff"/>
<path d="M444.57 370.4L452.17 378L444.57 385.6L436.97 378Z" fill="#c65a12"/><path d="M444.57 373.23L449.34 378L444.57 382.77L439.8 378Z" fill="#fff"/>
<path d="M449.96 342.2L457.56 349.8L449.96 357.4L442.36 349.8Z" fill="#c65a12"/><path d="M449.96 345.03L454.73 349.8L449.96 354.57L445.19 349.8Z" fill="#fff"/>
<path d="M572.5 313.9L580.1 321.5L572.5 329.1L564.9 321.5Z" fill="#c65a12"/><path d="M572.5 316.73L577.27 321.5L572.5 326.27L567.73 321.5Z" fill="#fff"/>
<path d="M573.81 307.58L581.41 315.18L573.81 322.78L566.21 315.18Z" fill="#c65a12"/><path d="M573.81 310.41L578.59 315.18L573.81 319.95L569.04 315.18Z" fill="#fff"/>
<path d="M575.11 301.32L582.71 308.92L575.11 316.52L567.51 308.92Z" fill="#c65a12"/><path d="M575.11 304.15L579.89 308.92L575.11 313.69L570.34 308.92Z" fill="#fff"/>
<path d="M576.4 295.12L584 302.72L576.4 310.32L568.8 302.72Z" fill="#c65a12"/><path d="M576.4 297.95L581.17 302.72L576.4 307.49L571.63 302.72Z" fill="#fff"/>
<path d="M577.68 288.98L585.28 296.58L577.68 304.18L570.08 296.58Z" fill="#c65a12"/><path d="M577.68 291.81L582.45 296.58L577.68 301.35L572.91 296.58Z" fill="#fff"/>
<path d="M578.94 282.9L586.54 290.5L578.94 298.1L571.34 290.5Z" fill="#c65a12"/><path d="M578.94 285.73L583.71 290.5L578.94 295.27L574.17 290.5Z" fill="#fff"/>
<path d="M585.08 251.9L592.68 259.5L585.08 267.1L577.48 259.5Z" fill="#c65a12"/><path d="M585.08 254.73L589.85 259.5L585.08 264.27L580.31 259.5Z" fill="#fff"/>
<path d="M590.95 223.3L598.55 230.9L590.95 238.5L583.35 230.9Z" fill="#c65a12"/><path d="M590.95 226.13L595.72 230.9L590.95 235.67L586.18 230.9Z" fill="#fff"/>
<path d="M596.57 194.7L604.17 202.3L596.57 209.9L588.97 202.3Z" fill="#c65a12"/><path d="M596.57 197.53L601.34 202.3L596.57 207.07L591.8 202.3Z" fill="#fff"/>
<path d="M601.96 167.4L609.56 175L601.96 182.6L594.36 175Z" fill="#c65a12"/><path d="M601.96 170.23L606.73 175L601.96 179.77L597.19 175Z" fill="#fff"/>
<line x1="268.5" y1="498" x2="602" y2="293.5" stroke="#22a0dc" stroke-width="4.0" stroke-linecap="round" stroke-dasharray="0 8.8"/>
<line x1="268.5" y1="514" x2="602" y2="297" stroke="#f58232" stroke-width="4.0" stroke-linecap="round" stroke-dasharray="0 8.8"/>
<line x1="268.5" y1="546" x2="602" y2="312" stroke="#a9a9a9" stroke-width="4.0" stroke-linecap="round" stroke-dasharray="0 8.8"/>
<line x1="268.5" y1="549" x2="602" y2="314.5" stroke="#ffc000" stroke-width="4.0" stroke-linecap="round" stroke-dasharray="0 8.8"/>
<line x1="268.5" y1="496.8" x2="602" y2="259.5" stroke="#2e86d2" stroke-width="4.0" stroke-linecap="round" stroke-dasharray="0 8.8"/>
<line x1="268.5" y1="506.5" x2="602" y2="260" stroke="#5aaf4b" stroke-width="4.0" stroke-linecap="round" stroke-dasharray="0 8.8"/>
<line x1="268.5" y1="511" x2="602" y2="265" stroke="#10649f" stroke-width="4.0" stroke-linecap="round" stroke-dasharray="0 8.8"/>
<line x1="268.5" y1="526.4" x2="602" y2="267.5" stroke="#c85a14" stroke-width="4.0" stroke-linecap="round" stroke-dasharray="0 8.8"/>
<rect x="116.5" y="14.5" width="608.0" height="596.9" fill="none" stroke="#000" stroke-width="3"/>
<line x1="116.5" y1="551.71" x2="127" y2="551.71" stroke="#000" stroke-width="3"/>
<line x1="116.5" y1="492.02" x2="127" y2="492.02" stroke="#000" stroke-width="3"/>
<line x1="116.5" y1="432.33" x2="127" y2="432.33" stroke="#000" stroke-width="3"/>
<line x1="116.5" y1="372.64" x2="127" y2="372.64" stroke="#000" stroke-width="3"/>
<line x1="116.5" y1="312.95" x2="127" y2="312.95" stroke="#000" stroke-width="3"/>
<line x1="116.5" y1="253.26" x2="127" y2="253.26" stroke="#000" stroke-width="3"/>
<line x1="116.5" y1="193.57" x2="127" y2="193.57" stroke="#000" stroke-width="3"/>
<line x1="116.5" y1="133.88" x2="127" y2="133.88" stroke="#000" stroke-width="3"/>
<line x1="116.5" y1="74.19" x2="127" y2="74.19" stroke="#000" stroke-width="3"/>
<line x1="268.5" y1="611.4" x2="268.5" y2="601" stroke="#000" stroke-width="3"/>
<line x1="420.5" y1="611.4" x2="420.5" y2="601" stroke="#000" stroke-width="3"/>
<line x1="572.5" y1="611.4" x2="572.5" y2="601" stroke="#000" stroke-width="3"/>
<text x="84" y="621.1" text-anchor="end" font-family="Liberation Sans" font-weight="bold" font-size="32" fill="#6b6b6b">0.2</text>
<text x="84" y="561.41" text-anchor="end" font-family="Liberation Sans" font-weight="bold" font-size="32" fill="#6b6b6b">0.3</text>
<text x="84" y="501.72" text-anchor="end" font-family="Liberation Sans" font-weight="bold" font-size="32" fill="#6b6b6b">0.4</text>
<text x="84" y="442.03" text-anchor="end" font-family="Liberation Sans" font-weight="bold" font-size="32" fill="#6b6b6b">0.5</text>
<text x="84" y="382.34" text-anchor="end" font-family="Liberation Sans" font-weight="bold" font-size="32" fill="#6b6b6b">0.6</text>
<text x="84" y="322.65" text-anchor="end" font-family="Liberation Sans" font-weight="bold" font-size="32" fill="#6b6b6b">0.7</text>
<text x="84" y="262.96" text-anchor="end" font-family="Liberation Sans" font-weight="bold" font-size="32" fill="#6b6b6b">0.8</text>
<text x="84" y="203.27" text-anchor="end" font-family="Liberation Sans" font-weight="bold" font-size="32" fill="#6b6b6b">0.9</text>
<text x="84" y="143.58" text-anchor="end" font-family="Liberation Sans" font-weight="bold" font-size="32" fill="#6b6b6b">1</text>
<text x="84" y="83.89" text-anchor="end" font-family="Liberation Sans" font-weight="bold" font-size="32" fill="#6b6b6b">1.1</text>
<text x="84" y="24.2" text-anchor="end" font-family="Liberation Sans" font-weight="bold" font-size="32" fill="#6b6b6b">1.2</text>
<text x="117.3" y="668.2" text-anchor="middle" font-family="Liberation Sans" font-weight="bold" font-size="32" fill="#6b6b6b">3</text>
<text x="269.3" y="668.2" text-anchor="middle" font-family="Liberation Sans" font-weight="bold" font-size="32" fill="#6b6b6b">4</text>
<text x="421.3" y="668.2" text-anchor="middle" font-family="Liberation Sans" font-weight="bold" font-size="32" fill="#6b6b6b">5</text>
<text x="573.3" y="668.2" text-anchor="middle" font-family="Liberation Sans" font-weight="bold" font-size="32" fill="#6b6b6b">6</text>
<text x="725.3" y="668.2" text-anchor="middle" font-family="Liberation Sans" font-weight="bold" font-size="32" fill="#6b6b6b">7</text>
<text transform="translate(23.5 384.2) rotate(-90)" font-family="Liberation Serif" font-weight="bold" font-size="32" fill="#6a6a6a" textLength="142.5" lengthAdjust="spacingAndGlyphs">Log <tspan font-weight="normal">[</tspan>Nu<tspan font-size="21" dy="5">m</tspan><tspan dy="-5" font-weight="normal">)</tspan></text>
<text transform="translate(319.87 716.3) scale(1.041 1)" font-family="Liberation Serif" font-weight="bold" font-style="normal" font-size="30" fill="#707070">Log</text>
<text transform="translate(374.27 716.3) scale(0.913 1)" font-family="Liberation Serif" font-weight="bold" font-style="normal" font-size="30" fill="#707070">[</text>
<text transform="translate(383.49 716.3) scale(1.220 1)" font-family="Liberation Serif" font-weight="bold" font-style="normal" font-size="30" fill="#707070">(</text>
<text transform="translate(394.85 716.3) scale(0.978 1)" font-family="Liberation Serif" font-weight="bold" font-style="normal" font-size="30" fill="#707070">1</text>
<text transform="translate(409.67 716.3) scale(1.155 1)" font-family="Liberation Serif" font-weight="bold" font-style="normal" font-size="30" fill="#707070">+</text>
<text transform="translate(428.77 716.3) scale(1.104 1)" font-family="Liberation Serif" font-weight="bold" font-style="italic" font-size="30" fill="#707070">φ</text>
<text transform="translate(449.78 716.3) scale(1.155 1)" font-family="Liberation Serif" font-weight="bold" font-style="normal" font-size="30" fill="#707070">)</text>
<text transform="translate(461.05 706.6) scale(1.078 1)" font-family="Liberation Serif" font-weight="bold" font-style="normal" font-size="21" fill="#707070">2</text>
<text transform="translate(471.98 716.3) scale(1.008 1)" font-family="Liberation Serif" font-weight="bold" font-style="normal" font-size="30" fill="#707070">Ra</text>
<text transform="translate(512.36 716.3) scale(0.958 1)" font-family="Liberation Serif" font-weight="bold" font-style="normal" font-size="30" fill="#707070">]</text>
<text transform="translate(232.11 766.6) scale(1.003 1)" font-family="Liberation Serif" font-weight="normal" font-style="normal" font-size="36" fill="#000">(a)</text>
<text transform="translate(295.64 766.6) scale(0.968 1)" font-family="Liberation Serif" font-weight="normal" font-style="normal" font-size="36" fill="#000">Inner Cylinder</text>
<line x1="117.2" y1="1291.7" x2="731.8" y2="1291.7" stroke="#dadada" stroke-width="2"/>
<line x1="117.2" y1="1229.4" x2="731.8" y2="1229.4" stroke="#dadada" stroke-width="2"/>
<line x1="117.2" y1="1167.1" x2="731.8" y2="1167.1" stroke="#dadada" stroke-width="2"/>
<line x1="117.2" y1="1104.8" x2="731.8" y2="1104.8" stroke="#dadada" stroke-width="2"/>
<line x1="117.2" y1="1042.5" x2="731.8" y2="1042.5" stroke="#dadada" stroke-width="2"/>
<line x1="117.2" y1="980.2" x2="731.8" y2="980.2" stroke="#dadada" stroke-width="2"/>
<line x1="117.2" y1="917.9" x2="731.8" y2="917.9" stroke="#dadada" stroke-width="2"/>
<line x1="117.2" y1="855.6" x2="731.8" y2="855.6" stroke="#dadada" stroke-width="2"/>
<line x1="147.93" y1="792.6" x2="147.93" y2="1354" stroke="#efefef" stroke-width="2"/>
<line x1="178.66" y1="792.6" x2="178.66" y2="1354" stroke="#efefef" stroke-width="2"/>
<line x1="209.39" y1="792.6" x2="209.39" y2="1354" stroke="#efefef" stroke-width="2"/>
<line x1="240.12" y1="792.6" x2="240.12" y2="1354" stroke="#efefef" stroke-width="2"/>
<line x1="270.85" y1="792.6" x2="270.85" y2="1354" stroke="#d4d4d4" stroke-width="1.6"/>
<line x1="301.58" y1="792.6" x2="301.58" y2="1354" stroke="#efefef" stroke-width="2"/>
<line x1="332.31" y1="792.6" x2="332.31" y2="1354" stroke="#efefef" stroke-width="2"/>
<line x1="363.04" y1="792.6" x2="363.04" y2="1354" stroke="#efefef" stroke-width="2"/>
<line x1="393.77" y1="792.6" x2="393.77" y2="1354" stroke="#efefef" stroke-width="2"/>
<line x1="424.5" y1="792.6" x2="424.5" y2="1354" stroke="#d4d4d4" stroke-width="1.6"/>
<line x1="455.23" y1="792.6" x2="455.23" y2="1354" stroke="#efefef" stroke-width="2"/>
<line x1="485.96" y1="792.6" x2="485.96" y2="1354" stroke="#efefef" stroke-width="2"/>
<line x1="516.69" y1="792.6" x2="516.69" y2="1354" stroke="#efefef" stroke-width="2"/>
<line x1="547.42" y1="792.6" x2="547.42" y2="1354" stroke="#efefef" stroke-width="2"/>
<line x1="578.15" y1="792.6" x2="578.15" y2="1354" stroke="#d4d4d4" stroke-width="1.6"/>
<line x1="608.88" y1="792.6" x2="608.88" y2="1354" stroke="#efefef" stroke-width="2"/>
<line x1="639.61" y1="792.6" x2="639.61" y2="1354" stroke="#efefef" stroke-width="2"/>
<line x1="670.34" y1="792.6" x2="670.34" y2="1354" stroke="#efefef" stroke-width="2"/>
<line x1="701.07" y1="792.6" x2="701.07" y2="1354" stroke="#efefef" stroke-width="2"/>
<path d="M222.5 809.12L230.25 824.88L214.75 824.88Z" fill="#17a5df"/>
<text x="278.2" y="824.6" font-family="Liberation Sans" font-size="25.5" fill="#6a6a6a" textLength="100" lengthAdjust="spacingAndGlyphs">Model-1</text>
<circle cx="222.5" cy="851.1" r="8.12" fill="#f88a30"/>
<text x="278.2" y="858.7" font-family="Liberation Sans" font-size="25.5" fill="#6a6a6a" textLength="100" lengthAdjust="spacingAndGlyphs">Model-2</text>
<rect x="215.88" y="878.58" width="13.25" height="13.25" fill="#ff0000"/>
<text x="278.2" y="892.8" font-family="Liberation Sans" font-size="25.5" fill="#6a6a6a" textLength="100" lengthAdjust="spacingAndGlyphs">Model-3</text>
<path d="M222.5 911.05L230.75 919.3L222.5 927.55L214.25 919.3Z" fill="#ffc000"/>
<text x="278.2" y="926.9" font-family="Liberation Sans" font-size="25.5" fill="#6a6a6a" textLength="100" lengthAdjust="spacingAndGlyphs">Model-4</text>
<path d="M222.5 945.4L230.38 961.4L214.62 961.4ZM222.5 950.95L226.44 958.95L218.56 958.95Z" fill="#ff0000" fill-rule="evenodd"/><path d="M222.5 950.95L226.44 958.95L218.56 958.95Z" fill="#fff"/>
<text x="278.2" y="961" font-family="Liberation Sans" font-size="25.5" fill="#6a6a6a" textLength="100" lengthAdjust="spacingAndGlyphs">Model-5</text>
<rect x="214.77" y="979.77" width="15.46" height="15.46" fill="#50b446"/><rect x="216.9" y="981.9" width="11.2" height="11.2" fill="#fff"/>
<text x="278.2" y="995.1" font-family="Liberation Sans" font-size="25.5" fill="#6a6a6a" textLength="100" lengthAdjust="spacingAndGlyphs">Model-6</text>
<circle cx="222.5" cy="1021.6" r="7.73" fill="#fff" stroke="#8b3fc0" stroke-width="2.24"/>
<text x="278.2" y="1029.2" font-family="Liberation Sans" font-size="25.5" fill="#6a6a6a" textLength="100" lengthAdjust="spacingAndGlyphs">Model-7</text>
<path d="M222.5 1047.19L231.01 1055.7L222.5 1064.21L213.99 1055.7Z" fill="#c65a12"/><path d="M222.5 1050.36L227.84 1055.7L222.5 1061.04L217.16 1055.7Z" fill="#fff"/>
<text x="278.2" y="1063.3" font-family="Liberation Sans" font-size="25.5" fill="#6a6a6a" textLength="100" lengthAdjust="spacingAndGlyphs">Model-8</text>
<rect x="436" y="825.5" width="277" height="70" fill="#fff" stroke="#1a1a1a" stroke-width="1.3"/>
<text x="467" y="875" font-family="Liberation Sans" font-size="25.5" fill="#111" textLength="74" lengthAdjust="spacingAndGlyphs">Outer</text>
<text x="550" y="875.2" font-family="Liberation Sans" font-size="33.5" fill="#111" textLength="131" lengthAdjust="spacingAndGlyphs">Cylinder</text>
<path d="M270.85 1260.12L278.6 1275.88L263.1 1275.88Z" fill="#17a5df"/>
<path d="M272.18 1253.39L279.93 1269.14L264.43 1269.14Z" fill="#17a5df"/>
<path d="M273.49 1246.73L281.24 1262.48L265.74 1262.48Z" fill="#17a5df"/>
<path d="M274.79 1240.13L282.54 1255.88L267.04 1255.88Z" fill="#17a5df"/>
<path d="M276.08 1233.6L283.83 1249.35L268.33 1249.35Z" fill="#17a5df"/>
<path d="M277.36 1227.12L285.11 1242.88L269.61 1242.88Z" fill="#17a5df"/>
<path d="M283.57 1190.04L291.32 1205.79L275.82 1205.79Z" fill="#17a5df"/>
<path d="M289.5 1154.6L297.25 1170.35L281.75 1170.35Z" fill="#17a5df"/>
<path d="M295.18 1120.67L302.93 1136.42L287.43 1136.42Z" fill="#17a5df"/>
<path d="M300.63 1088.12L308.38 1103.88L292.88 1103.88Z" fill="#17a5df"/>
<path d="M424.5 1256.12L432.25 1271.88L416.75 1271.88Z" fill="#17a5df"/>
<path d="M425.83 1249.39L433.58 1265.14L418.08 1265.14Z" fill="#17a5df"/>
<path d="M427.14 1242.72L434.89 1258.47L419.39 1258.47Z" fill="#17a5df"/>
<path d="M428.44 1236.12L436.19 1251.87L420.69 1251.87Z" fill="#17a5df"/>
<path d="M429.73 1229.58L437.48 1245.33L421.98 1245.33Z" fill="#17a5df"/>
<path d="M431.01 1223.11L438.76 1238.86L423.26 1238.86Z" fill="#17a5df"/>
<path d="M437.22 1191.63L444.97 1207.38L429.47 1207.38Z" fill="#17a5df"/>
<path d="M443.15 1161.55L450.9 1177.3L435.4 1177.3Z" fill="#17a5df"/>
<path d="M448.83 1132.75L456.58 1148.5L441.08 1148.5Z" fill="#17a5df"/>
<path d="M454.28 1105.12L462.03 1120.88L446.53 1120.88Z" fill="#17a5df"/>
<path d="M578.15 1132.12L585.9 1147.88L570.4 1147.88Z" fill="#17a5df"/>
<path d="M579.48 1125.19L587.23 1140.94L571.73 1140.94Z" fill="#17a5df"/>
<path d="M580.79 1118.33L588.54 1134.08L573.04 1134.08Z" fill="#17a5df"/>
<path d="M582.09 1111.53L589.84 1127.28L574.34 1127.28Z" fill="#17a5df"/>
<path d="M583.38 1104.79L591.13 1120.54L575.63 1120.54Z" fill="#17a5df"/>
<path d="M584.66 1098.12L592.41 1113.88L576.91 1113.88Z" fill="#17a5df"/>
<path d="M590.87 1068.62L598.62 1084.38L583.12 1084.38Z" fill="#17a5df"/>
<path d="M596.8 1036.46L604.55 1052.21L589.05 1052.21Z" fill="#17a5df"/>
<path d="M602.48 1005.66L610.23 1021.41L594.73 1021.41Z" fill="#17a5df"/>
<path d="M607.93 976.12L615.68 991.88L600.18 991.88Z" fill="#17a5df"/>
<circle cx="270.85" cy="1268" r="8.12" fill="#f88a30"/>
<circle cx="272.18" cy="1261.27" r="8.12" fill="#f88a30"/>
<circle cx="273.49" cy="1254.61" r="8.12" fill="#f88a30"/>
<circle cx="274.79" cy="1248.01" r="8.12" fill="#f88a30"/>
<circle cx="276.08" cy="1241.47" r="8.12" fill="#f88a30"/>
<circle cx="277.36" cy="1235" r="8.12" fill="#f88a30"/>
<circle cx="283.57" cy="1197.91" r="8.12" fill="#f88a30"/>
<circle cx="289.5" cy="1162.47" r="8.12" fill="#f88a30"/>
<circle cx="295.18" cy="1128.54" r="8.12" fill="#f88a30"/>
<circle cx="300.63" cy="1096" r="8.12" fill="#f88a30"/>
<circle cx="424.5" cy="1265" r="8.12" fill="#f88a30"/>
<circle cx="425.83" cy="1257.51" r="8.12" fill="#f88a30"/>
<circle cx="427.14" cy="1250.09" r="8.12" fill="#f88a30"/>
<circle cx="428.44" cy="1242.75" r="8.12" fill="#f88a30"/>
<circle cx="429.73" cy="1235.47" r="8.12" fill="#f88a30"/>
<circle cx="431.01" cy="1228.27" r="8.12" fill="#f88a30"/>
<circle cx="437.22" cy="1193.24" r="8.12" fill="#f88a30"/>
<circle cx="443.15" cy="1159.78" r="8.12" fill="#f88a30"/>
<circle cx="448.83" cy="1127.73" r="8.12" fill="#f88a30"/>
<circle cx="454.28" cy="1097" r="8.12" fill="#f88a30"/>
<circle cx="578.15" cy="1140" r="8.12" fill="#f88a30"/>
<circle cx="579.48" cy="1133.07" r="8.12" fill="#f88a30"/>
<circle cx="580.79" cy="1126.2" r="8.12" fill="#f88a30"/>
<circle cx="582.09" cy="1119.4" r="8.12" fill="#f88a30"/>
<circle cx="583.38" cy="1112.67" r="8.12" fill="#f88a30"/>
<circle cx="584.66" cy="1106" r="8.12" fill="#f88a30"/>
<circle cx="590.87" cy="1076.5" r="8.12" fill="#f88a30"/>
<circle cx="596.8" cy="1044.33" r="8.12" fill="#f88a30"/>
<circle cx="602.48" cy="1013.54" r="8.12" fill="#f88a30"/>
<circle cx="607.93" cy="984" r="8.12" fill="#f88a30"/>
<rect x="264.23" y="1298.38" width="13.25" height="13.25" fill="#ff0000"/>
<rect x="265.55" y="1290.75" width="13.25" height="13.25" fill="#ff0000"/>
<rect x="266.87" y="1283.2" width="13.25" height="13.25" fill="#ff0000"/>
<rect x="268.17" y="1275.72" width="13.25" height="13.25" fill="#ff0000"/>
<rect x="269.46" y="1268.32" width="13.25" height="13.25" fill="#ff0000"/>
<rect x="270.74" y="1260.99" width="13.25" height="13.25" fill="#ff0000"/>
<rect x="276.94" y="1225.34" width="13.25" height="13.25" fill="#ff0000"/>
<rect x="282.88" y="1191.27" width="13.25" height="13.25" fill="#ff0000"/>
<rect x="288.56" y="1158.66" width="13.25" height="13.25" fill="#ff0000"/>
<rect x="294.01" y="1127.38" width="13.25" height="13.25" fill="#ff0000"/>
<rect x="417.88" y="1255.38" width="13.25" height="13.25" fill="#ff0000"/>
<rect x="419.2" y="1247.84" width="13.25" height="13.25" fill="#ff0000"/>
<rect x="420.52" y="1240.38" width="13.25" height="13.25" fill="#ff0000"/>
<rect x="421.82" y="1232.99" width="13.25" height="13.25" fill="#ff0000"/>
<rect x="423.11" y="1225.67" width="13.25" height="13.25" fill="#ff0000"/>
<rect x="424.39" y="1218.42" width="13.25" height="13.25" fill="#ff0000"/>
<rect x="430.59" y="1183.19" width="13.25" height="13.25" fill="#ff0000"/>
<rect x="436.53" y="1149.52" width="13.25" height="13.25" fill="#ff0000"/>
<rect x="442.21" y="1117.29" width="13.25" height="13.25" fill="#ff0000"/>
<rect x="447.66" y="1086.38" width="13.25" height="13.25" fill="#ff0000"/>
<rect x="571.53" y="1138.38" width="13.25" height="13.25" fill="#ff0000"/>
<rect x="572.85" y="1131.64" width="13.25" height="13.25" fill="#ff0000"/>
<rect x="574.17" y="1124.98" width="13.25" height="13.25" fill="#ff0000"/>
<rect x="575.47" y="1118.38" width="13.25" height="13.25" fill="#ff0000"/>
<rect x="576.76" y="1111.85" width="13.25" height="13.25" fill="#ff0000"/>
<rect x="578.04" y="1105.38" width="13.25" height="13.25" fill="#ff0000"/>
<rect x="584.24" y="1073.38" width="13.25" height="13.25" fill="#ff0000"/>
<rect x="590.18" y="1041.73" width="13.25" height="13.25" fill="#ff0000"/>
<rect x="595.86" y="1011.43" width="13.25" height="13.25" fill="#ff0000"/>
<rect x="601.31" y="982.38" width="13.25" height="13.25" fill="#ff0000"/>
<path d="M270.85 1289.75L279.1 1298L270.85 1306.25L262.6 1298Z" fill="#ffc000"/>
<path d="M272.18 1282.08L280.43 1290.33L272.18 1298.58L263.93 1290.33Z" fill="#ffc000"/>
<path d="M273.49 1274.49L281.74 1282.74L273.49 1290.99L265.24 1282.74Z" fill="#ffc000"/>
<path d="M274.79 1266.97L283.04 1275.22L274.79 1283.47L266.54 1275.22Z" fill="#ffc000"/>
<path d="M276.08 1259.52L284.33 1267.77L276.08 1276.02L267.83 1267.77Z" fill="#ffc000"/>
<path d="M277.36 1252.14L285.61 1260.39L277.36 1268.64L269.11 1260.39Z" fill="#ffc000"/>
<path d="M283.57 1216.28L291.82 1224.53L283.57 1232.78L275.32 1224.53Z" fill="#ffc000"/>
<path d="M289.5 1182.02L297.75 1190.27L289.5 1198.52L281.25 1190.27Z" fill="#ffc000"/>
<path d="M295.18 1149.22L303.43 1157.47L295.18 1165.72L286.93 1157.47Z" fill="#ffc000"/>
<path d="M300.63 1117.75L308.88 1126L300.63 1134.25L292.38 1126Z" fill="#ffc000"/>
<path d="M424.5 1267.25L432.75 1275.5L424.5 1283.75L416.25 1275.5Z" fill="#ffc000"/>
<path d="M425.83 1259.96L434.08 1268.21L425.83 1276.46L417.58 1268.21Z" fill="#ffc000"/>
<path d="M427.14 1252.74L435.39 1260.99L427.14 1269.24L418.89 1260.99Z" fill="#ffc000"/>
<path d="M428.44 1245.59L436.69 1253.84L428.44 1262.09L420.19 1253.84Z" fill="#ffc000"/>
<path d="M429.73 1238.51L437.98 1246.76L429.73 1255.01L421.48 1246.76Z" fill="#ffc000"/>
<path d="M431.01 1231.5L439.26 1239.75L431.01 1248L422.76 1239.75Z" fill="#ffc000"/>
<path d="M437.22 1197.42L445.47 1205.67L437.22 1213.92L428.97 1205.67Z" fill="#ffc000"/>
<path d="M443.15 1164.84L451.4 1173.09L443.15 1181.34L434.9 1173.09Z" fill="#ffc000"/>
<path d="M448.83 1133.66L457.08 1141.91L448.83 1150.16L440.58 1141.91Z" fill="#ffc000"/>
<path d="M454.28 1103.75L462.53 1112L454.28 1120.25L446.03 1112Z" fill="#ffc000"/>
<path d="M578.15 1131.75L586.4 1140L578.15 1148.25L569.9 1140Z" fill="#ffc000"/>
<path d="M579.48 1124.82L587.73 1133.07L579.48 1141.32L571.23 1133.07Z" fill="#ffc000"/>
<path d="M580.79 1117.95L589.04 1126.2L580.79 1134.45L572.54 1126.2Z" fill="#ffc000"/>
<path d="M582.09 1111.15L590.34 1119.4L582.09 1127.65L573.84 1119.4Z" fill="#ffc000"/>
<path d="M583.38 1104.42L591.63 1112.67L583.38 1120.92L575.13 1112.67Z" fill="#ffc000"/>
<path d="M584.66 1097.75L592.91 1106L584.66 1114.25L576.41 1106Z" fill="#ffc000"/>
<path d="M590.87 1068.25L599.12 1076.5L590.87 1084.75L582.62 1076.5Z" fill="#ffc000"/>
<path d="M596.8 1036.08L605.05 1044.33L596.8 1052.58L588.55 1044.33Z" fill="#ffc000"/>
<path d="M602.48 1005.29L610.73 1013.54L602.48 1021.79L594.23 1013.54Z" fill="#ffc000"/>
<path d="M607.93 975.75L616.18 984L607.93 992.25L599.68 984Z" fill="#ffc000"/>
<path d="M270.85 1260L278.73 1276L262.98 1276ZM270.85 1265.55L274.79 1273.55L266.91 1273.55Z" fill="#ff0000" fill-rule="evenodd"/><path d="M270.85 1265.55L274.79 1273.55L266.91 1273.55Z" fill="#fff"/>
<path d="M272.18 1253.27L280.05 1269.27L264.3 1269.27ZM272.18 1258.82L276.12 1266.82L268.24 1266.82Z" fill="#ff0000" fill-rule="evenodd"/><path d="M272.18 1258.82L276.12 1266.82L268.24 1266.82Z" fill="#fff"/>
<path d="M273.49 1246.61L281.37 1262.61L265.62 1262.61ZM273.49 1252.16L277.43 1260.16L269.56 1260.16Z" fill="#ff0000" fill-rule="evenodd"/><path d="M273.49 1252.16L277.43 1260.16L269.56 1260.16Z" fill="#fff"/>
<path d="M274.79 1240.01L282.67 1256.01L266.92 1256.01ZM274.79 1245.56L278.73 1253.56L270.86 1253.56Z" fill="#ff0000" fill-rule="evenodd"/><path d="M274.79 1245.56L278.73 1253.56L270.86 1253.56Z" fill="#fff"/>
<path d="M276.08 1233.47L283.96 1249.47L268.21 1249.47ZM276.08 1239.02L280.02 1247.02L272.15 1247.02Z" fill="#ff0000" fill-rule="evenodd"/><path d="M276.08 1239.02L280.02 1247.02L272.15 1247.02Z" fill="#fff"/>
<path d="M277.36 1227L285.24 1243L269.49 1243ZM277.36 1232.55L281.3 1240.55L273.42 1240.55Z" fill="#ff0000" fill-rule="evenodd"/><path d="M277.36 1232.55L281.3 1240.55L273.42 1240.55Z" fill="#fff"/>
<path d="M283.57 1194L291.44 1210L275.69 1210ZM283.57 1199.55L287.51 1207.55L279.63 1207.55Z" fill="#ff0000" fill-rule="evenodd"/><path d="M283.57 1199.55L287.51 1207.55L279.63 1207.55Z" fill="#fff"/>
<path d="M289.5 1158L297.38 1174L281.63 1174ZM289.5 1163.55L293.44 1171.55L285.56 1171.55Z" fill="#ff0000" fill-rule="evenodd"/><path d="M289.5 1163.55L293.44 1171.55L285.56 1171.55Z" fill="#fff"/>
<path d="M295.18 1124L303.06 1140L287.31 1140ZM295.18 1129.55L299.12 1137.55L291.24 1137.55Z" fill="#ff0000" fill-rule="evenodd"/><path d="M295.18 1129.55L299.12 1137.55L291.24 1137.55Z" fill="#fff"/>
<path d="M300.63 1088L308.51 1104L292.76 1104ZM300.63 1093.55L304.57 1101.55L296.69 1101.55Z" fill="#ff0000" fill-rule="evenodd"/><path d="M300.63 1093.55L304.57 1101.55L296.69 1101.55Z" fill="#fff"/>
<path d="M424.5 1257L432.38 1273L416.62 1273ZM424.5 1262.55L428.44 1270.55L420.56 1270.55Z" fill="#ff0000" fill-rule="evenodd"/><path d="M424.5 1262.55L428.44 1270.55L420.56 1270.55Z" fill="#fff"/>
<path d="M425.83 1250.27L433.7 1266.27L417.95 1266.27ZM425.83 1255.82L429.77 1263.82L421.89 1263.82Z" fill="#ff0000" fill-rule="evenodd"/><path d="M425.83 1255.82L429.77 1263.82L421.89 1263.82Z" fill="#fff"/>
<path d="M427.14 1243.6L435.02 1259.6L419.27 1259.6ZM427.14 1249.15L431.08 1257.15L423.21 1257.15Z" fill="#ff0000" fill-rule="evenodd"/><path d="M427.14 1249.15L431.08 1257.15L423.21 1257.15Z" fill="#fff"/>
<path d="M428.44 1237L436.32 1253L420.57 1253ZM428.44 1242.55L432.38 1250.55L424.51 1250.55Z" fill="#ff0000" fill-rule="evenodd"/><path d="M428.44 1242.55L432.38 1250.55L424.51 1250.55Z" fill="#fff"/>
<path d="M429.73 1230.46L437.61 1246.46L421.86 1246.46ZM429.73 1236.01L433.67 1244.01L425.8 1244.01Z" fill="#ff0000" fill-rule="evenodd"/><path d="M429.73 1236.01L433.67 1244.01L425.8 1244.01Z" fill="#fff"/>
<path d="M431.01 1223.98L438.89 1239.98L423.14 1239.98ZM431.01 1229.53L434.95 1237.53L427.07 1237.53Z" fill="#ff0000" fill-rule="evenodd"/><path d="M431.01 1229.53L434.95 1237.53L427.07 1237.53Z" fill="#fff"/>
<path d="M437.22 1192.5L445.09 1208.5L429.34 1208.5ZM437.22 1198.05L441.16 1206.05L433.28 1206.05Z" fill="#ff0000" fill-rule="evenodd"/><path d="M437.22 1198.05L441.16 1206.05L433.28 1206.05Z" fill="#fff"/>
<path d="M443.15 1162.42L451.03 1178.42L435.28 1178.42ZM443.15 1167.97L447.09 1175.97L439.21 1175.97Z" fill="#ff0000" fill-rule="evenodd"/><path d="M443.15 1167.97L447.09 1175.97L439.21 1175.97Z" fill="#fff"/>
<path d="M448.83 1133.62L456.71 1149.62L440.96 1149.62ZM448.83 1139.17L452.77 1147.17L444.89 1147.17Z" fill="#ff0000" fill-rule="evenodd"/><path d="M448.83 1139.17L452.77 1147.17L444.89 1147.17Z" fill="#fff"/>
<path d="M454.28 1106L462.16 1122L446.41 1122ZM454.28 1111.55L458.22 1119.55L450.34 1119.55Z" fill="#ff0000" fill-rule="evenodd"/><path d="M454.28 1111.55L458.22 1119.55L450.34 1119.55Z" fill="#fff"/>
<path d="M578.15 1132L586.03 1148L570.28 1148ZM578.15 1137.55L582.09 1145.55L574.21 1145.55Z" fill="#ff0000" fill-rule="evenodd"/><path d="M578.15 1137.55L582.09 1145.55L574.21 1145.55Z" fill="#fff"/>
<path d="M579.48 1125.07L587.35 1141.07L571.6 1141.07ZM579.48 1130.62L583.42 1138.62L575.54 1138.62Z" fill="#ff0000" fill-rule="evenodd"/><path d="M579.48 1130.62L583.42 1138.62L575.54 1138.62Z" fill="#fff"/>
<path d="M580.79 1118.2L588.67 1134.2L572.92 1134.2ZM580.79 1123.75L584.73 1131.75L576.86 1131.75Z" fill="#ff0000" fill-rule="evenodd"/><path d="M580.79 1123.75L584.73 1131.75L576.86 1131.75Z" fill="#fff"/>
<path d="M582.09 1111.4L589.97 1127.4L574.22 1127.4ZM582.09 1116.95L586.03 1124.95L578.16 1124.95Z" fill="#ff0000" fill-rule="evenodd"/><path d="M582.09 1116.95L586.03 1124.95L578.16 1124.95Z" fill="#fff"/>
<path d="M583.38 1104.67L591.26 1120.67L575.51 1120.67ZM583.38 1110.22L587.32 1118.22L579.45 1118.22Z" fill="#ff0000" fill-rule="evenodd"/><path d="M583.38 1110.22L587.32 1118.22L579.45 1118.22Z" fill="#fff"/>
<path d="M584.66 1098L592.54 1114L576.79 1114ZM584.66 1103.55L588.6 1111.55L580.72 1111.55Z" fill="#ff0000" fill-rule="evenodd"/><path d="M584.66 1103.55L588.6 1111.55L580.72 1111.55Z" fill="#fff"/>
<path d="M590.87 1068.5L598.74 1084.5L582.99 1084.5ZM590.87 1074.05L594.81 1082.05L586.93 1082.05Z" fill="#ff0000" fill-rule="evenodd"/><path d="M590.87 1074.05L594.81 1082.05L586.93 1082.05Z" fill="#fff"/>
<path d="M596.8 1036.33L604.68 1052.33L588.93 1052.33ZM596.8 1041.88L600.74 1049.88L592.86 1049.88Z" fill="#ff0000" fill-rule="evenodd"/><path d="M596.8 1041.88L600.74 1049.88L592.86 1049.88Z" fill="#fff"/>
<path d="M602.48 1005.54L610.36 1021.54L594.61 1021.54ZM602.48 1011.09L606.42 1019.09L598.54 1019.09Z" fill="#ff0000" fill-rule="evenodd"/><path d="M602.48 1011.09L606.42 1019.09L598.54 1019.09Z" fill="#fff"/>
<path d="M607.93 976L615.81 992L600.06 992ZM607.93 981.55L611.87 989.55L603.99 989.55Z" fill="#ff0000" fill-rule="evenodd"/><path d="M607.93 981.55L611.87 989.55L603.99 989.55Z" fill="#fff"/>
<rect x="262.23" y="1259.38" width="17.25" height="17.25" fill="#50b446"/><rect x="264.6" y="1261.75" width="12.5" height="12.5" fill="#fff"/>
<rect x="263.55" y="1252.64" width="17.25" height="17.25" fill="#50b446"/><rect x="265.93" y="1255.02" width="12.5" height="12.5" fill="#fff"/>
<rect x="264.87" y="1245.98" width="17.25" height="17.25" fill="#50b446"/><rect x="267.24" y="1248.36" width="12.5" height="12.5" fill="#fff"/>
<rect x="266.17" y="1239.38" width="17.25" height="17.25" fill="#50b446"/><rect x="268.54" y="1241.76" width="12.5" height="12.5" fill="#fff"/>
<rect x="267.46" y="1232.85" width="17.25" height="17.25" fill="#50b446"/><rect x="269.83" y="1235.22" width="12.5" height="12.5" fill="#fff"/>
<rect x="268.74" y="1226.38" width="17.25" height="17.25" fill="#50b446"/><rect x="271.11" y="1228.75" width="12.5" height="12.5" fill="#fff"/>
<rect x="274.94" y="1193.38" width="17.25" height="17.25" fill="#50b446"/><rect x="277.32" y="1195.75" width="12.5" height="12.5" fill="#fff"/>
<rect x="280.88" y="1157.38" width="17.25" height="17.25" fill="#50b446"/><rect x="283.25" y="1159.75" width="12.5" height="12.5" fill="#fff"/>
<rect x="286.56" y="1123.38" width="17.25" height="17.25" fill="#50b446"/><rect x="288.93" y="1125.75" width="12.5" height="12.5" fill="#fff"/>
<rect x="292.01" y="1087.38" width="17.25" height="17.25" fill="#50b446"/><rect x="294.38" y="1089.75" width="12.5" height="12.5" fill="#fff"/>
<rect x="415.88" y="1231.38" width="17.25" height="17.25" fill="#50b446"/><rect x="418.25" y="1233.75" width="12.5" height="12.5" fill="#fff"/>
<rect x="417.2" y="1225.05" width="17.25" height="17.25" fill="#50b446"/><rect x="419.58" y="1227.43" width="12.5" height="12.5" fill="#fff"/>
<rect x="418.52" y="1218.79" width="17.25" height="17.25" fill="#50b446"/><rect x="420.89" y="1221.17" width="12.5" height="12.5" fill="#fff"/>
<rect x="419.82" y="1212.59" width="17.25" height="17.25" fill="#50b446"/><rect x="422.19" y="1214.97" width="12.5" height="12.5" fill="#fff"/>
<rect x="421.11" y="1206.46" width="17.25" height="17.25" fill="#50b446"/><rect x="423.48" y="1208.83" width="12.5" height="12.5" fill="#fff"/>
<rect x="422.39" y="1200.38" width="17.25" height="17.25" fill="#50b446"/><rect x="424.76" y="1202.75" width="12.5" height="12.5" fill="#fff"/>
<rect x="428.59" y="1166.38" width="17.25" height="17.25" fill="#50b446"/><rect x="430.97" y="1168.75" width="12.5" height="12.5" fill="#fff"/>
<rect x="434.53" y="1133.38" width="17.25" height="17.25" fill="#50b446"/><rect x="436.9" y="1135.75" width="12.5" height="12.5" fill="#fff"/>
<rect x="440.21" y="1100.38" width="17.25" height="17.25" fill="#50b446"/><rect x="442.58" y="1102.75" width="12.5" height="12.5" fill="#fff"/>
<rect x="445.66" y="1067.88" width="17.25" height="17.25" fill="#50b446"/><rect x="448.03" y="1070.25" width="12.5" height="12.5" fill="#fff"/>
<rect x="569.53" y="1131.38" width="17.25" height="17.25" fill="#50b446"/><rect x="571.9" y="1133.75" width="12.5" height="12.5" fill="#fff"/>
<rect x="570.85" y="1124.44" width="17.25" height="17.25" fill="#50b446"/><rect x="573.23" y="1126.82" width="12.5" height="12.5" fill="#fff"/>
<rect x="572.17" y="1117.58" width="17.25" height="17.25" fill="#50b446"/><rect x="574.54" y="1119.95" width="12.5" height="12.5" fill="#fff"/>
<rect x="573.47" y="1110.78" width="17.25" height="17.25" fill="#50b446"/><rect x="575.84" y="1113.15" width="12.5" height="12.5" fill="#fff"/>
<rect x="574.76" y="1104.04" width="17.25" height="17.25" fill="#50b446"/><rect x="577.13" y="1106.42" width="12.5" height="12.5" fill="#fff"/>
<rect x="576.04" y="1097.38" width="17.25" height="17.25" fill="#50b446"/><rect x="578.41" y="1099.75" width="12.5" height="12.5" fill="#fff"/>
<rect x="582.24" y="1067.88" width="17.25" height="17.25" fill="#50b446"/><rect x="584.62" y="1070.25" width="12.5" height="12.5" fill="#fff"/>
<rect x="588.18" y="1035.88" width="17.25" height="17.25" fill="#50b446"/><rect x="590.55" y="1038.25" width="12.5" height="12.5" fill="#fff"/>
<rect x="593.86" y="1005.38" width="17.25" height="17.25" fill="#50b446"/><rect x="596.23" y="1007.75" width="12.5" height="12.5" fill="#fff"/>
<rect x="599.31" y="975.38" width="17.25" height="17.25" fill="#50b446"/><rect x="601.68" y="977.75" width="12.5" height="12.5" fill="#fff"/>
<circle cx="270.85" cy="1288" r="8.62" fill="#fff" stroke="#8b3fc0" stroke-width="2.5"/>
<circle cx="272.18" cy="1281.07" r="8.62" fill="#fff" stroke="#8b3fc0" stroke-width="2.5"/>
<circle cx="273.49" cy="1274.2" r="8.62" fill="#fff" stroke="#8b3fc0" stroke-width="2.5"/>
<circle cx="274.79" cy="1267.4" r="8.62" fill="#fff" stroke="#8b3fc0" stroke-width="2.5"/>
<circle cx="276.08" cy="1260.67" r="8.62" fill="#fff" stroke="#8b3fc0" stroke-width="2.5"/>
<circle cx="277.36" cy="1254" r="8.62" fill="#fff" stroke="#8b3fc0" stroke-width="2.5"/>
<circle cx="283.57" cy="1220" r="8.62" fill="#fff" stroke="#8b3fc0" stroke-width="2.5"/>
<circle cx="289.5" cy="1185" r="8.62" fill="#fff" stroke="#8b3fc0" stroke-width="2.5"/>
<circle cx="295.18" cy="1149.5" r="8.62" fill="#fff" stroke="#8b3fc0" stroke-width="2.5"/>
<circle cx="300.63" cy="1115" r="8.62" fill="#fff" stroke="#8b3fc0" stroke-width="2.5"/>
<circle cx="424.5" cy="1252" r="8.62" fill="#fff" stroke="#8b3fc0" stroke-width="2.5"/>
<circle cx="425.83" cy="1245.27" r="8.62" fill="#fff" stroke="#8b3fc0" stroke-width="2.5"/>
<circle cx="427.14" cy="1238.61" r="8.62" fill="#fff" stroke="#8b3fc0" stroke-width="2.5"/>
<circle cx="428.44" cy="1232.01" r="8.62" fill="#fff" stroke="#8b3fc0" stroke-width="2.5"/>
<circle cx="429.73" cy="1225.47" r="8.62" fill="#fff" stroke="#8b3fc0" stroke-width="2.5"/>
<circle cx="431.01" cy="1219" r="8.62" fill="#fff" stroke="#8b3fc0" stroke-width="2.5"/>
<circle cx="437.22" cy="1185" r="8.62" fill="#fff" stroke="#8b3fc0" stroke-width="2.5"/>
<circle cx="443.15" cy="1151.5" r="8.62" fill="#fff" stroke="#8b3fc0" stroke-width="2.5"/>
<circle cx="448.83" cy="1119.4" r="8.62" fill="#fff" stroke="#8b3fc0" stroke-width="2.5"/>
<circle cx="454.28" cy="1088.8" r="8.62" fill="#fff" stroke="#8b3fc0" stroke-width="2.5"/>
<circle cx="578.15" cy="1125" r="8.62" fill="#fff" stroke="#8b3fc0" stroke-width="2.5"/>
<circle cx="579.48" cy="1120.11" r="8.62" fill="#fff" stroke="#8b3fc0" stroke-width="2.5"/>
<circle cx="580.79" cy="1115.26" r="8.62" fill="#fff" stroke="#8b3fc0" stroke-width="2.5"/>
<circle cx="582.09" cy="1110.46" r="8.62" fill="#fff" stroke="#8b3fc0" stroke-width="2.5"/>
<circle cx="583.38" cy="1105.71" r="8.62" fill="#fff" stroke="#8b3fc0" stroke-width="2.5"/>
<circle cx="584.66" cy="1101" r="8.62" fill="#fff" stroke="#8b3fc0" stroke-width="2.5"/>
<circle cx="590.87" cy="1061.7" r="8.62" fill="#fff" stroke="#8b3fc0" stroke-width="2.5"/>
<circle cx="596.8" cy="1030.6" r="8.62" fill="#fff" stroke="#8b3fc0" stroke-width="2.5"/>
<circle cx="602.48" cy="999.4" r="8.62" fill="#fff" stroke="#8b3fc0" stroke-width="2.5"/>
<circle cx="607.93" cy="969.2" r="8.62" fill="#fff" stroke="#8b3fc0" stroke-width="2.5"/>
<path d="M270.85 1263.1L280.35 1272.6L270.85 1282.1L261.35 1272.6Z" fill="#c65a12"/><path d="M270.85 1266.64L276.81 1272.6L270.85 1278.56L264.89 1272.6Z" fill="#fff"/>
<path d="M272.18 1256.25L281.68 1265.75L272.18 1275.25L262.68 1265.75Z" fill="#c65a12"/><path d="M272.18 1259.78L278.14 1265.75L272.18 1271.71L266.21 1265.75Z" fill="#fff"/>
<path d="M273.49 1249.46L282.99 1258.96L273.49 1268.46L263.99 1258.96Z" fill="#c65a12"/><path d="M273.49 1253L279.46 1258.96L273.49 1264.93L267.53 1258.96Z" fill="#fff"/>
<path d="M274.79 1242.74L284.29 1252.24L274.79 1261.74L265.29 1252.24Z" fill="#c65a12"/><path d="M274.79 1246.28L280.76 1252.24L274.79 1258.21L268.83 1252.24Z" fill="#fff"/>
<path d="M276.08 1236.09L285.58 1245.59L276.08 1255.09L266.58 1245.59Z" fill="#c65a12"/><path d="M276.08 1239.63L282.05 1245.59L276.08 1251.55L270.12 1245.59Z" fill="#fff"/>
<path d="M277.36 1229.5L286.86 1239L277.36 1248.5L267.86 1239Z" fill="#c65a12"/><path d="M277.36 1233.04L283.33 1239L277.36 1244.96L271.4 1239Z" fill="#fff"/>
<path d="M283.57 1194.5L293.07 1204L283.57 1213.5L274.07 1204Z" fill="#c65a12"/><path d="M283.57 1198.04L289.53 1204L283.57 1209.96L277.61 1204Z" fill="#fff"/>
<path d="M289.5 1160L299 1169.5L289.5 1179L280 1169.5Z" fill="#c65a12"/><path d="M289.5 1163.54L295.47 1169.5L289.5 1175.46L283.54 1169.5Z" fill="#fff"/>
<path d="M295.18 1124.5L304.68 1134L295.18 1143.5L285.68 1134Z" fill="#c65a12"/><path d="M295.18 1128.04L301.15 1134L295.18 1139.96L289.22 1134Z" fill="#fff"/>
<path d="M300.63 1090.5L310.13 1100L300.63 1109.5L291.13 1100Z" fill="#c65a12"/><path d="M300.63 1094.04L306.59 1100L300.63 1105.96L294.67 1100Z" fill="#fff"/>
<path d="M424.5 1241.1L434 1250.6L424.5 1260.1L415 1250.6Z" fill="#c65a12"/><path d="M424.5 1244.64L430.46 1250.6L424.5 1256.56L418.54 1250.6Z" fill="#fff"/>
<path d="M425.83 1234.45L435.33 1243.95L425.83 1253.45L416.33 1243.95Z" fill="#c65a12"/><path d="M425.83 1237.99L431.79 1243.95L425.83 1249.92L419.86 1243.95Z" fill="#fff"/>
<path d="M427.14 1227.87L436.64 1237.37L427.14 1246.87L417.64 1237.37Z" fill="#c65a12"/><path d="M427.14 1231.4L433.11 1237.37L427.14 1243.33L421.18 1237.37Z" fill="#fff"/>
<path d="M428.44 1221.35L437.94 1230.85L428.44 1240.35L418.94 1230.85Z" fill="#c65a12"/><path d="M428.44 1224.89L434.41 1230.85L428.44 1236.81L422.48 1230.85Z" fill="#fff"/>
<path d="M429.73 1214.89L439.23 1224.39L429.73 1233.89L420.23 1224.39Z" fill="#c65a12"/><path d="M429.73 1218.43L435.7 1224.39L429.73 1230.36L423.77 1224.39Z" fill="#fff"/>
<path d="M431.01 1208.5L440.51 1218L431.01 1227.5L421.51 1218Z" fill="#c65a12"/><path d="M431.01 1212.04L436.98 1218L431.01 1223.96L425.05 1218Z" fill="#fff"/>
<path d="M437.22 1175.5L446.72 1185L437.22 1194.5L427.72 1185Z" fill="#c65a12"/><path d="M437.22 1179.04L443.18 1185L437.22 1190.96L431.26 1185Z" fill="#fff"/>
<path d="M443.15 1140.5L452.65 1150L443.15 1159.5L433.65 1150Z" fill="#c65a12"/><path d="M443.15 1144.04L449.12 1150L443.15 1155.96L437.19 1150Z" fill="#fff"/>
<path d="M448.83 1108.5L458.33 1118L448.83 1127.5L439.33 1118Z" fill="#c65a12"/><path d="M448.83 1112.04L454.8 1118L448.83 1123.96L442.87 1118Z" fill="#fff"/>
<path d="M454.28 1076L463.78 1085.5L454.28 1095L444.78 1085.5Z" fill="#c65a12"/><path d="M454.28 1079.54L460.24 1085.5L454.28 1091.46L448.32 1085.5Z" fill="#fff"/>
<path d="M578.15 1116.5L587.65 1126L578.15 1135.5L568.65 1126Z" fill="#c65a12"/><path d="M578.15 1120.04L584.11 1126L578.15 1131.96L572.19 1126Z" fill="#fff"/>
<path d="M579.48 1111.61L588.98 1121.11L579.48 1130.61L569.98 1121.11Z" fill="#c65a12"/><path d="M579.48 1115.14L585.44 1121.11L579.48 1127.07L573.51 1121.11Z" fill="#fff"/>
<path d="M580.79 1106.76L590.29 1116.26L580.79 1125.76L571.29 1116.26Z" fill="#c65a12"/><path d="M580.79 1110.29L586.76 1116.26L580.79 1122.22L574.83 1116.26Z" fill="#fff"/>
<path d="M582.09 1101.96L591.59 1111.46L582.09 1120.96L572.59 1111.46Z" fill="#c65a12"/><path d="M582.09 1105.5L588.06 1111.46L582.09 1117.42L576.13 1111.46Z" fill="#fff"/>
<path d="M583.38 1097.21L592.88 1106.71L583.38 1116.21L573.88 1106.71Z" fill="#c65a12"/><path d="M583.38 1100.74L589.35 1106.71L583.38 1112.67L577.42 1106.71Z" fill="#fff"/>
<path d="M584.66 1092.5L594.16 1102L584.66 1111.5L575.16 1102Z" fill="#c65a12"/><path d="M584.66 1096.04L590.63 1102L584.66 1107.96L578.7 1102Z" fill="#fff"/>
<path d="M590.87 1052.5L600.37 1062L590.87 1071.5L581.37 1062Z" fill="#c65a12"/><path d="M590.87 1056.04L596.83 1062L590.87 1067.96L584.91 1062Z" fill="#fff"/>
<path d="M596.8 1021.5L606.3 1031L596.8 1040.5L587.3 1031Z" fill="#c65a12"/><path d="M596.8 1025.04L602.77 1031L596.8 1036.96L590.84 1031Z" fill="#fff"/>
<path d="M602.48 990.4L611.98 999.9L602.48 1009.4L592.98 999.9Z" fill="#c65a12"/><path d="M602.48 993.94L608.45 999.9L602.48 1005.86L596.52 999.9Z" fill="#fff"/>
<path d="M607.93 962.5L617.43 972L607.93 981.5L598.43 972Z" fill="#c65a12"/><path d="M607.93 966.04L613.89 972L607.93 977.96L601.97 972Z" fill="#fff"/>
<line x1="270.9" y1="1258" x2="608.5" y2="1087.5" stroke="#22a0dc" stroke-width="4.8" stroke-linecap="round" stroke-dasharray="0 10.8"/>
<line x1="270.9" y1="1253.5" x2="608.5" y2="1071" stroke="#f58232" stroke-width="4.8" stroke-linecap="round" stroke-dasharray="0 10.8"/>
<line x1="270.9" y1="1270.7" x2="608.5" y2="1081.2" stroke="#a9a9a9" stroke-width="4.8" stroke-linecap="round" stroke-dasharray="0 10.8"/>
<line x1="270.9" y1="1268" x2="608.5" y2="1078.5" stroke="#ffc000" stroke-width="4.8" stroke-linecap="round" stroke-dasharray="0 10.8"/>
<line x1="270.9" y1="1250.6" x2="608.5" y2="1085.8" stroke="#2e86d2" stroke-width="4.8" stroke-linecap="round" stroke-dasharray="0 10.8"/>
<line x1="270.9" y1="1229.8" x2="608.5" y2="1079.7" stroke="#5aaf4b" stroke-width="4.8" stroke-linecap="round" stroke-dasharray="0 10.8"/>
<line x1="270.9" y1="1251" x2="608.5" y2="1069.5" stroke="#10649f" stroke-width="4.8" stroke-linecap="round" stroke-dasharray="0 10.8"/>
<line x1="270.9" y1="1237.7" x2="608.5" y2="1072.5" stroke="#c85a14" stroke-width="4.8" stroke-linecap="round" stroke-dasharray="0 10.8"/>
<rect x="117.2" y="792.6" width="614.6" height="561.4" fill="none" stroke="#000" stroke-width="3.2"/>
<line x1="117.2" y1="1291.7" x2="126.5" y2="1291.7" stroke="#000" stroke-width="3"/>
<line x1="117.2" y1="1229.4" x2="126.5" y2="1229.4" stroke="#000" stroke-width="3"/>
<line x1="117.2" y1="1167.1" x2="126.5" y2="1167.1" stroke="#000" stroke-width="3"/>
<line x1="117.2" y1="1104.8" x2="126.5" y2="1104.8" stroke="#000" stroke-width="3"/>
<line x1="117.2" y1="1042.5" x2="126.5" y2="1042.5" stroke="#000" stroke-width="3"/>
<line x1="117.2" y1="980.2" x2="126.5" y2="980.2" stroke="#000" stroke-width="3"/>
<line x1="117.2" y1="917.9" x2="126.5" y2="917.9" stroke="#000" stroke-width="3"/>
<line x1="117.2" y1="855.6" x2="126.5" y2="855.6" stroke="#000" stroke-width="3"/>
<line x1="270.85" y1="1354" x2="270.85" y2="1342.5" stroke="#000" stroke-width="3"/>
<line x1="424.5" y1="1354" x2="424.5" y2="1342.5" stroke="#000" stroke-width="3"/>
<line x1="578.15" y1="1354" x2="578.15" y2="1342.5" stroke="#000" stroke-width="3"/>
<text x="87.6" y="1364.6" text-anchor="end" font-family="Liberation Serif" font-weight="bold" font-size="33" fill="#6b6b6b">0</text>
<text x="87.6" y="1302.3" text-anchor="end" font-family="Liberation Serif" font-weight="bold" font-size="33" fill="#6b6b6b">0.1</text>
<text x="87.6" y="1240" text-anchor="end" font-family="Liberation Serif" font-weight="bold" font-size="33" fill="#6b6b6b">0.2</text>
<text x="87.6" y="1177.7" text-anchor="end" font-family="Liberation Serif" font-weight="bold" font-size="33" fill="#6b6b6b">0.3</text>
<text x="87.6" y="1115.4" text-anchor="end" font-family="Liberation Serif" font-weight="bold" font-size="33" fill="#6b6b6b">0.4</text>
<text x="87.6" y="1053.1" text-anchor="end" font-family="Liberation Serif" font-weight="bold" font-size="33" fill="#6b6b6b">0.5</text>
<text x="87.6" y="990.8" text-anchor="end" font-family="Liberation Serif" font-weight="bold" font-size="33" fill="#6b6b6b">0.6</text>
<text x="87.6" y="928.5" text-anchor="end" font-family="Liberation Serif" font-weight="bold" font-size="33" fill="#6b6b6b">0.7</text>
<text x="87.6" y="866.2" text-anchor="end" font-family="Liberation Serif" font-weight="bold" font-size="33" fill="#6b6b6b">0.8</text>
<text x="87.6" y="803.9" text-anchor="end" font-family="Liberation Serif" font-weight="bold" font-size="33" fill="#6b6b6b">0.9</text>
<text x="117.8" y="1407.2" text-anchor="middle" font-family="Liberation Sans" font-weight="bold" font-size="31" fill="#6b6b6b">3</text>
<text x="271.45" y="1407.2" text-anchor="middle" font-family="Liberation Sans" font-weight="bold" font-size="31" fill="#6b6b6b">4</text>
<text x="425.1" y="1407.2" text-anchor="middle" font-family="Liberation Sans" font-weight="bold" font-size="31" fill="#6b6b6b">5</text>
<text x="578.75" y="1407.2" text-anchor="middle" font-family="Liberation Sans" font-weight="bold" font-size="31" fill="#6b6b6b">6</text>
<text x="732.4" y="1407.2" text-anchor="middle" font-family="Liberation Sans" font-weight="bold" font-size="31" fill="#6b6b6b">7</text>
<text transform="translate(26.8 1154.2) rotate(-90)" font-family="Liberation Serif" font-weight="bold" font-size="36" fill="#6a6a6a" textLength="161" lengthAdjust="spacingAndGlyphs">Log <tspan font-weight="normal">(</tspan>Nu<tspan font-size="24" dy="6">m</tspan><tspan dy="-6" font-weight="normal">)</tspan></text>
<text transform="translate(310.89 1458.6) scale(1.028 1)" font-family="Liberation Serif" font-weight="bold" font-style="normal" font-size="35" fill="#707070">Log</text>
<text transform="translate(372.47 1458.6) scale(1.129 1)" font-family="Liberation Serif" font-weight="bold" font-style="normal" font-size="35" fill="#707070">[</text>
<text transform="translate(386.11 1458.6) scale(0.901 1)" font-family="Liberation Serif" font-weight="bold" font-style="normal" font-size="35" fill="#707070">(</text>
<text transform="translate(395.02 1458.6) scale(1.063 1)" font-family="Liberation Serif" font-weight="bold" font-style="normal" font-size="35" fill="#707070">1</text>
<text transform="translate(411.23 1458.6) scale(1.174 1)" font-family="Liberation Serif" font-weight="bold" font-style="normal" font-size="35" fill="#707070">+</text>
<text transform="translate(434.44 1458.6) scale(1.171 1)" font-family="Liberation Serif" font-weight="bold" font-style="italic" font-size="35" fill="#707070">φ</text>
<text transform="translate(457.83 1458.6) scale(1.035 1)" font-family="Liberation Serif" font-weight="bold" font-style="normal" font-size="35" fill="#707070">)</text>
<text transform="translate(470.16 1448.2) scale(0.974 1)" font-family="Liberation Serif" font-weight="bold" font-style="normal" font-size="23" fill="#707070">2</text>
<text transform="translate(481.8 1458.6) scale(1.011 1)" font-family="Liberation Serif" font-weight="bold" font-style="normal" font-size="35" fill="#707070">Ra</text>
<text transform="translate(529.74 1458.6) scale(0.680 1)" font-family="Liberation Serif" font-weight="bold" font-style="normal" font-size="35" fill="#707070">]</text>
<text transform="translate(229.95 1510.6) scale(0.979 1)" font-family="Liberation Serif" font-weight="normal" font-style="normal" font-size="36" fill="#000">(b)</text>
<text transform="translate(292.18 1510.6) scale(0.963 1)" font-family="Liberation Serif" font-weight="normal" font-style="normal" font-size="36" fill="#000">Outer Cylinder</text>
</svg>
</body></html>
